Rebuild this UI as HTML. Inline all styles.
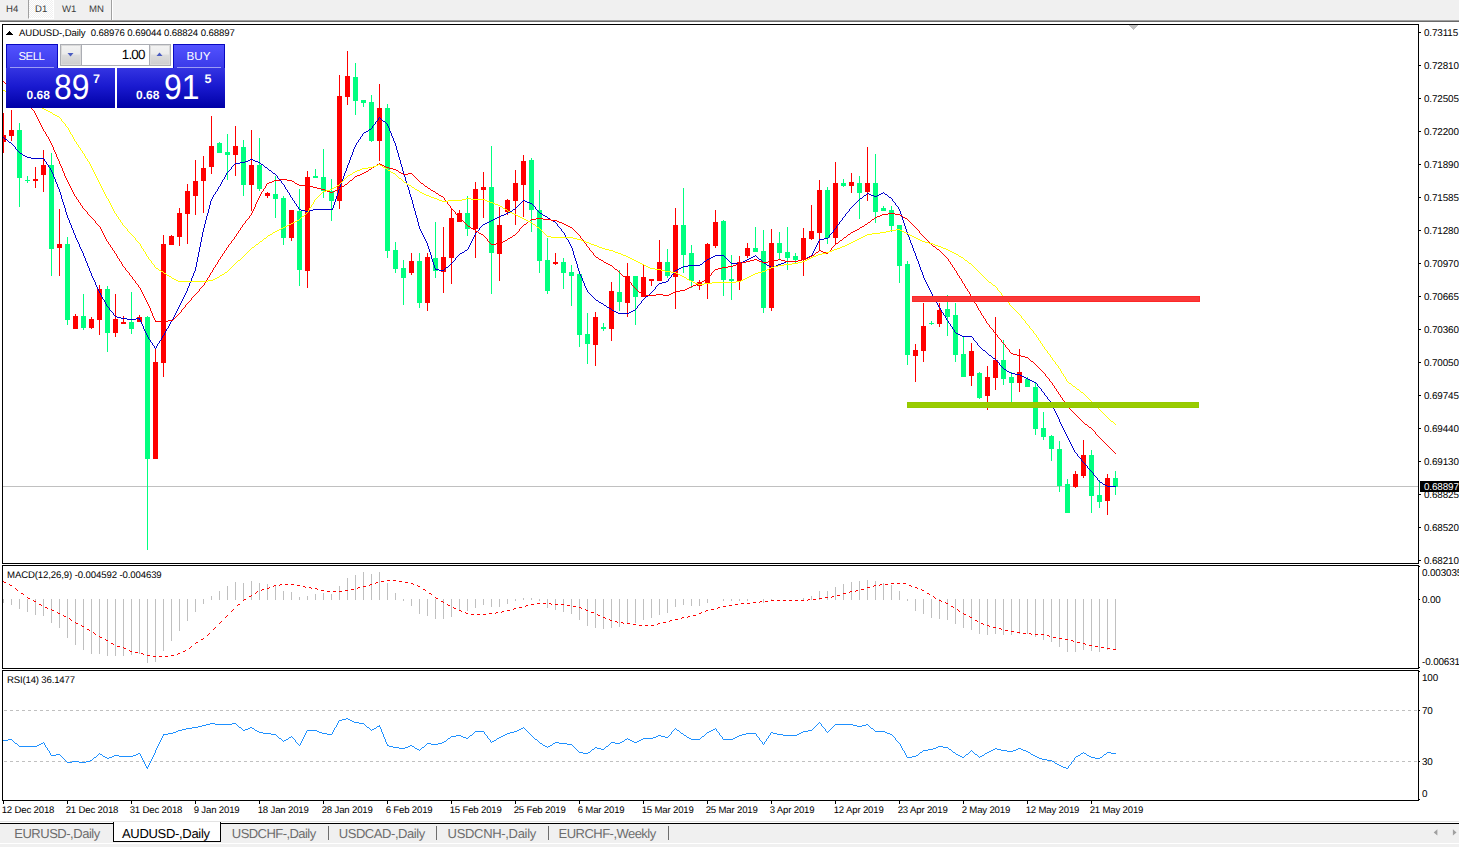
<!DOCTYPE html><html><head><meta charset="utf-8"><title>AUDUSD-,Daily</title><style>
html,body{margin:0;padding:0;background:#fff;}
body{width:1459px;height:847px;position:relative;overflow:hidden;font-family:"Liberation Sans",sans-serif;text-rendering:geometricPrecision;}
#top{position:absolute;left:0;top:0;width:1459px;height:20px;background:#f0f0f0;}
#topl1{position:absolute;left:0;top:20px;width:1459px;height:1px;background:#a0a0a0;}
#topl2{position:absolute;left:0;top:21px;width:1459px;height:1px;background:#696969;}
.tf{position:absolute;top:4px;font-size:9.6px;color:#3c3c3c;line-height:12px;white-space:nowrap;}
#d1{position:absolute;left:28px;top:0;width:24px;height:18px;background:repeating-conic-gradient(#fff 0 25%,#f0f0f0 0 50%) 0 0/2px 2px;border-left:1px solid #a0a0a0;border-right:1px solid #fff;border-bottom:1px solid #fff;}
#sep{position:absolute;left:111px;top:0;width:1px;height:20px;background:#a0a0a0;}
#sep2{position:absolute;left:112px;top:0;width:1px;height:20px;background:#fff;}
svg{position:absolute;left:0;top:0;}
.t{position:absolute;white-space:nowrap;color:#000;}
.ax{position:absolute;left:1424px;font-size:9.9px;line-height:11px;white-space:nowrap;color:#000;letter-spacing:-0.13px;}
.dt{position:absolute;top:805px;font-size:9.6px;line-height:11px;white-space:nowrap;color:#000;letter-spacing:-0.17px;}
#bar{position:absolute;left:0;top:824px;width:1459px;height:23px;background:#f0f0f0;}
#barw{position:absolute;left:0;top:843px;width:1459px;height:1px;background:#fff;}
#barl0{position:absolute;left:0;top:821px;width:1459px;height:1px;background:#e3e3e3;}
#barl1{position:absolute;left:0;top:823px;width:1459px;height:1px;background:#000;}
#act{position:absolute;left:113px;top:822px;width:106px;height:19px;background:#fff;border:1px solid #000;border-top:none;box-sizing:content-box;}
.tab{position:absolute;top:826px;font-size:13px;line-height:16px;color:#6d6d6d;white-space:nowrap;letter-spacing:-0.42px;}
.tsep{position:absolute;top:826px;width:1px;height:14px;background:#6d6d6d;}
/* trade panel */
#sell{position:absolute;left:6px;top:44px;width:52px;height:24px;background:linear-gradient(#5252ff,#3a3ae8);box-sizing:border-box;border:1px solid #0808c0;border-bottom:none;}
#buy{position:absolute;left:173px;top:44px;width:52px;height:24px;background:linear-gradient(#5252ff,#3a3ae8);box-sizing:border-box;border:1px solid #0808c0;border-bottom:none;}
#sellb{position:absolute;left:6px;top:68px;width:109px;height:40px;background:linear-gradient(#3434e2,#1a1ad0 45%,#0000a6);}
#buyb{position:absolute;left:117px;top:68px;width:108px;height:40px;background:linear-gradient(#3434e2,#1a1ad0 45%,#0000a6);}
.pl{position:absolute;top:67px;height:1px;background:#9c9cf5;}
#spin{position:absolute;left:60px;top:44px;width:109px;height:20px;background:#fff;border:1px solid #abadb3;}
.sb{position:absolute;top:45px;width:20px;height:20px;background:linear-gradient(#f2f2f2,#ebebeb 45%,#dddddd 50%,#cfcfcf);border:1px solid #dadada;box-sizing:border-box;}
.wt{position:absolute;color:#fff;white-space:nowrap;}

</style></head><body>
<div id="top"></div><div id="topl1"></div><div id="topl2"></div>
<div id="d1"></div><div id="sep"></div><div id="sep2"></div>
<div class="tf" style="left:6px">H4</div>
<div class="tf" style="left:35px">D1</div>
<div class="tf" style="left:62px">W1</div>
<div class="tf" style="left:89px">MN</div>
<svg width="1459" height="847" viewBox="0 0 1459 847" shape-rendering="crispEdges">
<rect x="3" y="486" width="1416" height="1" fill="#c0c0c0"/>
<clipPath id="cm"><rect x="3" y="25" width="1415" height="538"/></clipPath>
<g clip-path="url(#cm)">
<rect x="3" y="113" width="1" height="40" fill="#ff0000"/>
<rect x="1" y="135" width="5" height="7" fill="#ff0000"/>
<rect x="11" y="110" width="1" height="31" fill="#ff0000"/>
<rect x="9" y="130" width="5" height="6" fill="#ff0000"/>
<rect x="19" y="123" width="1" height="84" fill="#00ff7f"/>
<rect x="17" y="130" width="5" height="48" fill="#00ff7f"/>
<rect x="27" y="176" width="1" height="7" fill="#00ff7f"/>
<rect x="25" y="180" width="5" height="1" fill="#00ff7f"/>
<rect x="35" y="167" width="1" height="21" fill="#ff0000"/>
<rect x="33" y="179" width="5" height="2" fill="#ff0000"/>
<rect x="43" y="150" width="1" height="42" fill="#ff0000"/>
<rect x="41" y="165" width="5" height="10" fill="#ff0000"/>
<rect x="51" y="153" width="1" height="123" fill="#00ff7f"/>
<rect x="49" y="165" width="5" height="84" fill="#00ff7f"/>
<rect x="59" y="209" width="1" height="67" fill="#ff0000"/>
<rect x="57" y="244" width="5" height="4" fill="#ff0000"/>
<rect x="67" y="237" width="1" height="88" fill="#00ff7f"/>
<rect x="65" y="244" width="5" height="76" fill="#00ff7f"/>
<rect x="75" y="314" width="1" height="15" fill="#ff0000"/>
<rect x="73" y="316" width="5" height="13" fill="#ff0000"/>
<rect x="83" y="294" width="1" height="36" fill="#00ff7f"/>
<rect x="81" y="316" width="5" height="12" fill="#00ff7f"/>
<rect x="91" y="317" width="1" height="12" fill="#ff0000"/>
<rect x="89" y="319" width="5" height="9" fill="#ff0000"/>
<rect x="99" y="285" width="1" height="50" fill="#ff0000"/>
<rect x="97" y="289" width="5" height="31" fill="#ff0000"/>
<rect x="107" y="286" width="1" height="66" fill="#00ff7f"/>
<rect x="105" y="289" width="5" height="44" fill="#00ff7f"/>
<rect x="115" y="294" width="1" height="43" fill="#ff0000"/>
<rect x="113" y="319" width="5" height="14" fill="#ff0000"/>
<rect x="123" y="316" width="1" height="7" fill="#ff0000"/>
<rect x="121" y="322" width="5" height="2" fill="#ff0000"/>
<rect x="131" y="292" width="1" height="42" fill="#00ff7f"/>
<rect x="129" y="322" width="5" height="7" fill="#00ff7f"/>
<rect x="139" y="315" width="1" height="7" fill="#ff0000"/>
<rect x="137" y="317" width="5" height="5" fill="#ff0000"/>
<rect x="147" y="316" width="1" height="234" fill="#00ff7f"/>
<rect x="145" y="317" width="5" height="142" fill="#00ff7f"/>
<rect x="155" y="348" width="1" height="111" fill="#ff0000"/>
<rect x="153" y="362" width="5" height="97" fill="#ff0000"/>
<rect x="163" y="235" width="1" height="142" fill="#ff0000"/>
<rect x="161" y="244" width="5" height="119" fill="#ff0000"/>
<rect x="171" y="235" width="1" height="10" fill="#ff0000"/>
<rect x="169" y="236" width="5" height="9" fill="#ff0000"/>
<rect x="179" y="208" width="1" height="38" fill="#ff0000"/>
<rect x="177" y="213" width="5" height="24" fill="#ff0000"/>
<rect x="187" y="184" width="1" height="60" fill="#ff0000"/>
<rect x="185" y="191" width="5" height="23" fill="#ff0000"/>
<rect x="195" y="160" width="1" height="55" fill="#ff0000"/>
<rect x="193" y="181" width="5" height="15" fill="#ff0000"/>
<rect x="203" y="156" width="1" height="57" fill="#ff0000"/>
<rect x="201" y="168" width="5" height="13" fill="#ff0000"/>
<rect x="211" y="116" width="1" height="58" fill="#ff0000"/>
<rect x="209" y="146" width="5" height="21" fill="#ff0000"/>
<rect x="219" y="142" width="1" height="11" fill="#00ff7f"/>
<rect x="217" y="143" width="5" height="10" fill="#00ff7f"/>
<rect x="227" y="134" width="1" height="46" fill="#00ff7f"/>
<rect x="225" y="152" width="5" height="3" fill="#00ff7f"/>
<rect x="235" y="126" width="1" height="50" fill="#ff0000"/>
<rect x="233" y="146" width="5" height="9" fill="#ff0000"/>
<rect x="243" y="140" width="1" height="56" fill="#00ff7f"/>
<rect x="241" y="147" width="5" height="38" fill="#00ff7f"/>
<rect x="251" y="130" width="1" height="81" fill="#ff0000"/>
<rect x="249" y="165" width="5" height="20" fill="#ff0000"/>
<rect x="259" y="138" width="1" height="53" fill="#00ff7f"/>
<rect x="257" y="165" width="5" height="24" fill="#00ff7f"/>
<rect x="267" y="192" width="1" height="6" fill="#ff0000"/>
<rect x="265" y="193" width="5" height="3" fill="#ff0000"/>
<rect x="275" y="176" width="1" height="42" fill="#00ff7f"/>
<rect x="273" y="194" width="5" height="5" fill="#00ff7f"/>
<rect x="283" y="196" width="1" height="49" fill="#00ff7f"/>
<rect x="281" y="198" width="5" height="40" fill="#00ff7f"/>
<rect x="291" y="210" width="1" height="31" fill="#ff0000"/>
<rect x="289" y="210" width="5" height="28" fill="#ff0000"/>
<rect x="299" y="189" width="1" height="97" fill="#00ff7f"/>
<rect x="297" y="211" width="5" height="59" fill="#00ff7f"/>
<rect x="307" y="171" width="1" height="117" fill="#ff0000"/>
<rect x="305" y="177" width="5" height="94" fill="#ff0000"/>
<rect x="315" y="169" width="1" height="9" fill="#00ff7f"/>
<rect x="313" y="176" width="5" height="2" fill="#00ff7f"/>
<rect x="323" y="149" width="1" height="49" fill="#00ff7f"/>
<rect x="321" y="177" width="5" height="14" fill="#00ff7f"/>
<rect x="331" y="179" width="1" height="42" fill="#00ff7f"/>
<rect x="329" y="191" width="5" height="10" fill="#00ff7f"/>
<rect x="339" y="75" width="1" height="134" fill="#ff0000"/>
<rect x="337" y="96" width="5" height="105" fill="#ff0000"/>
<rect x="347" y="51" width="1" height="54" fill="#ff0000"/>
<rect x="345" y="76" width="5" height="21" fill="#ff0000"/>
<rect x="355" y="63" width="1" height="52" fill="#00ff7f"/>
<rect x="353" y="77" width="5" height="24" fill="#00ff7f"/>
<rect x="363" y="100" width="1" height="7" fill="#00ff7f"/>
<rect x="361" y="100" width="5" height="3" fill="#00ff7f"/>
<rect x="371" y="95" width="1" height="47" fill="#00ff7f"/>
<rect x="369" y="102" width="5" height="39" fill="#00ff7f"/>
<rect x="379" y="84" width="1" height="77" fill="#ff0000"/>
<rect x="377" y="108" width="5" height="33" fill="#ff0000"/>
<rect x="387" y="104" width="1" height="154" fill="#00ff7f"/>
<rect x="385" y="108" width="5" height="143" fill="#00ff7f"/>
<rect x="395" y="242" width="1" height="31" fill="#00ff7f"/>
<rect x="393" y="250" width="5" height="19" fill="#00ff7f"/>
<rect x="403" y="260" width="1" height="45" fill="#00ff7f"/>
<rect x="401" y="268" width="5" height="10" fill="#00ff7f"/>
<rect x="411" y="253" width="1" height="22" fill="#ff0000"/>
<rect x="409" y="261" width="5" height="12" fill="#ff0000"/>
<rect x="419" y="253" width="1" height="55" fill="#00ff7f"/>
<rect x="417" y="261" width="5" height="42" fill="#00ff7f"/>
<rect x="427" y="253" width="1" height="58" fill="#ff0000"/>
<rect x="425" y="257" width="5" height="46" fill="#ff0000"/>
<rect x="435" y="222" width="1" height="56" fill="#00ff7f"/>
<rect x="433" y="258" width="5" height="13" fill="#00ff7f"/>
<rect x="443" y="227" width="1" height="66" fill="#ff0000"/>
<rect x="441" y="257" width="5" height="15" fill="#ff0000"/>
<rect x="451" y="209" width="1" height="75" fill="#ff0000"/>
<rect x="449" y="218" width="5" height="40" fill="#ff0000"/>
<rect x="459" y="210" width="1" height="12" fill="#ff0000"/>
<rect x="457" y="213" width="5" height="9" fill="#ff0000"/>
<rect x="467" y="196" width="1" height="40" fill="#00ff7f"/>
<rect x="465" y="213" width="5" height="16" fill="#00ff7f"/>
<rect x="475" y="182" width="1" height="76" fill="#ff0000"/>
<rect x="473" y="189" width="5" height="40" fill="#ff0000"/>
<rect x="483" y="172" width="1" height="46" fill="#ff0000"/>
<rect x="481" y="187" width="5" height="3" fill="#ff0000"/>
<rect x="491" y="146" width="1" height="148" fill="#00ff7f"/>
<rect x="489" y="187" width="5" height="66" fill="#00ff7f"/>
<rect x="499" y="207" width="1" height="74" fill="#ff0000"/>
<rect x="497" y="225" width="5" height="29" fill="#ff0000"/>
<rect x="507" y="199" width="1" height="16" fill="#ff0000"/>
<rect x="505" y="200" width="5" height="12" fill="#ff0000"/>
<rect x="515" y="170" width="1" height="55" fill="#ff0000"/>
<rect x="513" y="183" width="5" height="18" fill="#ff0000"/>
<rect x="523" y="155" width="1" height="62" fill="#ff0000"/>
<rect x="521" y="161" width="5" height="24" fill="#ff0000"/>
<rect x="531" y="158" width="1" height="74" fill="#00ff7f"/>
<rect x="529" y="160" width="5" height="50" fill="#00ff7f"/>
<rect x="539" y="190" width="1" height="83" fill="#00ff7f"/>
<rect x="537" y="210" width="5" height="51" fill="#00ff7f"/>
<rect x="547" y="238" width="1" height="56" fill="#00ff7f"/>
<rect x="545" y="260" width="5" height="31" fill="#00ff7f"/>
<rect x="555" y="253" width="1" height="12" fill="#ff0000"/>
<rect x="553" y="262" width="5" height="2" fill="#ff0000"/>
<rect x="563" y="258" width="1" height="31" fill="#00ff7f"/>
<rect x="561" y="262" width="5" height="11" fill="#00ff7f"/>
<rect x="571" y="265" width="1" height="41" fill="#00ff7f"/>
<rect x="569" y="272" width="5" height="4" fill="#00ff7f"/>
<rect x="579" y="274" width="1" height="73" fill="#00ff7f"/>
<rect x="577" y="274" width="5" height="61" fill="#00ff7f"/>
<rect x="587" y="313" width="1" height="51" fill="#00ff7f"/>
<rect x="585" y="334" width="5" height="10" fill="#00ff7f"/>
<rect x="595" y="312" width="1" height="54" fill="#ff0000"/>
<rect x="593" y="317" width="5" height="28" fill="#ff0000"/>
<rect x="603" y="323" width="1" height="8" fill="#00ff7f"/>
<rect x="601" y="327" width="5" height="2" fill="#00ff7f"/>
<rect x="611" y="282" width="1" height="59" fill="#ff0000"/>
<rect x="609" y="291" width="5" height="38" fill="#ff0000"/>
<rect x="619" y="270" width="1" height="41" fill="#00ff7f"/>
<rect x="617" y="292" width="5" height="10" fill="#00ff7f"/>
<rect x="627" y="263" width="1" height="54" fill="#ff0000"/>
<rect x="625" y="276" width="5" height="27" fill="#ff0000"/>
<rect x="635" y="276" width="1" height="49" fill="#00ff7f"/>
<rect x="633" y="276" width="5" height="21" fill="#00ff7f"/>
<rect x="643" y="265" width="1" height="32" fill="#ff0000"/>
<rect x="641" y="277" width="5" height="20" fill="#ff0000"/>
<rect x="651" y="279" width="1" height="7" fill="#ff0000"/>
<rect x="649" y="279" width="5" height="2" fill="#ff0000"/>
<rect x="659" y="240" width="1" height="41" fill="#ff0000"/>
<rect x="657" y="262" width="5" height="19" fill="#ff0000"/>
<rect x="667" y="249" width="1" height="29" fill="#00ff7f"/>
<rect x="665" y="262" width="5" height="14" fill="#00ff7f"/>
<rect x="675" y="208" width="1" height="101" fill="#ff0000"/>
<rect x="673" y="225" width="5" height="52" fill="#ff0000"/>
<rect x="683" y="188" width="1" height="85" fill="#00ff7f"/>
<rect x="681" y="225" width="5" height="30" fill="#00ff7f"/>
<rect x="691" y="245" width="1" height="43" fill="#00ff7f"/>
<rect x="689" y="253" width="5" height="28" fill="#00ff7f"/>
<rect x="699" y="280" width="1" height="10" fill="#ff0000"/>
<rect x="697" y="282" width="5" height="4" fill="#ff0000"/>
<rect x="707" y="243" width="1" height="56" fill="#ff0000"/>
<rect x="705" y="244" width="5" height="39" fill="#ff0000"/>
<rect x="715" y="210" width="1" height="38" fill="#ff0000"/>
<rect x="713" y="222" width="5" height="24" fill="#ff0000"/>
<rect x="723" y="220" width="1" height="76" fill="#00ff7f"/>
<rect x="721" y="221" width="5" height="59" fill="#00ff7f"/>
<rect x="731" y="255" width="1" height="45" fill="#00ff7f"/>
<rect x="729" y="279" width="5" height="2" fill="#00ff7f"/>
<rect x="739" y="256" width="1" height="34" fill="#ff0000"/>
<rect x="737" y="262" width="5" height="19" fill="#ff0000"/>
<rect x="747" y="243" width="1" height="15" fill="#ff0000"/>
<rect x="745" y="248" width="5" height="8" fill="#ff0000"/>
<rect x="755" y="227" width="1" height="25" fill="#00ff7f"/>
<rect x="753" y="248" width="5" height="4" fill="#00ff7f"/>
<rect x="763" y="230" width="1" height="83" fill="#00ff7f"/>
<rect x="761" y="251" width="5" height="57" fill="#00ff7f"/>
<rect x="771" y="229" width="1" height="82" fill="#ff0000"/>
<rect x="769" y="243" width="5" height="65" fill="#ff0000"/>
<rect x="779" y="232" width="1" height="28" fill="#00ff7f"/>
<rect x="777" y="243" width="5" height="10" fill="#00ff7f"/>
<rect x="787" y="227" width="1" height="43" fill="#00ff7f"/>
<rect x="785" y="252" width="5" height="6" fill="#00ff7f"/>
<rect x="795" y="253" width="1" height="10" fill="#00ff7f"/>
<rect x="793" y="256" width="5" height="4" fill="#00ff7f"/>
<rect x="803" y="228" width="1" height="48" fill="#ff0000"/>
<rect x="801" y="238" width="5" height="22" fill="#ff0000"/>
<rect x="811" y="205" width="1" height="35" fill="#ff0000"/>
<rect x="809" y="231" width="5" height="8" fill="#ff0000"/>
<rect x="819" y="180" width="1" height="71" fill="#ff0000"/>
<rect x="817" y="190" width="5" height="43" fill="#ff0000"/>
<rect x="827" y="187" width="1" height="57" fill="#00ff7f"/>
<rect x="825" y="190" width="5" height="48" fill="#00ff7f"/>
<rect x="835" y="162" width="1" height="83" fill="#ff0000"/>
<rect x="833" y="183" width="5" height="55" fill="#ff0000"/>
<rect x="843" y="179" width="1" height="8" fill="#00ff7f"/>
<rect x="841" y="183" width="5" height="3" fill="#00ff7f"/>
<rect x="851" y="173" width="1" height="20" fill="#ff0000"/>
<rect x="849" y="182" width="5" height="4" fill="#ff0000"/>
<rect x="859" y="176" width="1" height="43" fill="#00ff7f"/>
<rect x="857" y="183" width="5" height="10" fill="#00ff7f"/>
<rect x="867" y="147" width="1" height="54" fill="#ff0000"/>
<rect x="865" y="183" width="5" height="9" fill="#ff0000"/>
<rect x="875" y="154" width="1" height="69" fill="#00ff7f"/>
<rect x="873" y="183" width="5" height="29" fill="#00ff7f"/>
<rect x="883" y="206" width="1" height="5" fill="#00ff7f"/>
<rect x="881" y="208" width="5" height="3" fill="#00ff7f"/>
<rect x="891" y="206" width="1" height="26" fill="#00ff7f"/>
<rect x="889" y="210" width="5" height="16" fill="#00ff7f"/>
<rect x="899" y="225" width="1" height="58" fill="#00ff7f"/>
<rect x="897" y="225" width="5" height="41" fill="#00ff7f"/>
<rect x="907" y="261" width="1" height="104" fill="#00ff7f"/>
<rect x="905" y="264" width="5" height="91" fill="#00ff7f"/>
<rect x="915" y="344" width="1" height="38" fill="#ff0000"/>
<rect x="913" y="350" width="5" height="6" fill="#ff0000"/>
<rect x="923" y="303" width="1" height="59" fill="#ff0000"/>
<rect x="921" y="326" width="5" height="25" fill="#ff0000"/>
<rect x="931" y="321" width="1" height="4" fill="#00ff7f"/>
<rect x="929" y="323" width="5" height="1" fill="#00ff7f"/>
<rect x="939" y="303" width="1" height="24" fill="#ff0000"/>
<rect x="937" y="310" width="5" height="14" fill="#ff0000"/>
<rect x="947" y="295" width="1" height="41" fill="#00ff7f"/>
<rect x="945" y="309" width="5" height="8" fill="#00ff7f"/>
<rect x="955" y="303" width="1" height="59" fill="#00ff7f"/>
<rect x="953" y="315" width="5" height="40" fill="#00ff7f"/>
<rect x="963" y="336" width="1" height="41" fill="#00ff7f"/>
<rect x="961" y="354" width="5" height="23" fill="#00ff7f"/>
<rect x="971" y="343" width="1" height="43" fill="#ff0000"/>
<rect x="969" y="351" width="5" height="25" fill="#ff0000"/>
<rect x="979" y="372" width="1" height="27" fill="#00ff7f"/>
<rect x="977" y="373" width="5" height="25" fill="#00ff7f"/>
<rect x="987" y="366" width="1" height="44" fill="#ff0000"/>
<rect x="985" y="377" width="5" height="19" fill="#ff0000"/>
<rect x="995" y="317" width="1" height="73" fill="#ff0000"/>
<rect x="993" y="360" width="5" height="18" fill="#ff0000"/>
<rect x="1003" y="340" width="1" height="45" fill="#00ff7f"/>
<rect x="1001" y="360" width="5" height="19" fill="#00ff7f"/>
<rect x="1011" y="372" width="1" height="30" fill="#00ff7f"/>
<rect x="1009" y="377" width="5" height="6" fill="#00ff7f"/>
<rect x="1019" y="349" width="1" height="43" fill="#ff0000"/>
<rect x="1017" y="372" width="5" height="11" fill="#ff0000"/>
<rect x="1027" y="377" width="1" height="10" fill="#00ff7f"/>
<rect x="1025" y="379" width="5" height="8" fill="#00ff7f"/>
<rect x="1035" y="383" width="1" height="52" fill="#00ff7f"/>
<rect x="1033" y="387" width="5" height="42" fill="#00ff7f"/>
<rect x="1043" y="412" width="1" height="28" fill="#00ff7f"/>
<rect x="1041" y="428" width="5" height="9" fill="#00ff7f"/>
<rect x="1051" y="435" width="1" height="26" fill="#00ff7f"/>
<rect x="1049" y="436" width="5" height="13" fill="#00ff7f"/>
<rect x="1059" y="441" width="1" height="51" fill="#00ff7f"/>
<rect x="1057" y="449" width="5" height="37" fill="#00ff7f"/>
<rect x="1067" y="479" width="1" height="34" fill="#00ff7f"/>
<rect x="1065" y="484" width="5" height="29" fill="#00ff7f"/>
<rect x="1075" y="471" width="1" height="17" fill="#ff0000"/>
<rect x="1073" y="474" width="5" height="13" fill="#ff0000"/>
<rect x="1083" y="440" width="1" height="38" fill="#ff0000"/>
<rect x="1081" y="455" width="5" height="21" fill="#ff0000"/>
<rect x="1091" y="450" width="1" height="63" fill="#00ff7f"/>
<rect x="1089" y="455" width="5" height="41" fill="#00ff7f"/>
<rect x="1099" y="480" width="1" height="28" fill="#00ff7f"/>
<rect x="1097" y="495" width="5" height="7" fill="#00ff7f"/>
<rect x="1107" y="474" width="1" height="41" fill="#ff0000"/>
<rect x="1105" y="478" width="5" height="23" fill="#ff0000"/>
<rect x="1115" y="471" width="1" height="24" fill="#00ff7f"/>
<rect x="1113" y="478" width="5" height="9" fill="#00ff7f"/>
<path d="M206.5 216v4M584.5 283v3M399.5 157v3M585.5 286v2M475.5 233v2M1070.5 442v2M189.5 283v3M48.5 165v2M641.5 301v2M97.5 287v2M52.5 172v2M909.5 237v3M573.5 251v4M471.5 241v2M336.5 196v3M73.5 230v3M173.5 317v2M818.5 241v2M59.5 189v3M394.5 141v2M941.5 310v2M169.5 324v2M62.5 199v3M80.5 247v2M919.5 264v3M193.5 273v3M901.5 214v3M205.5 220v4M352.5 152v3M65.5 208v4M87.5 263v3M415.5 211v4M418.5 222v4M1044.5 393v2M145.5 331v2M933.5 296v2M184.5 295v2M290.5 195v2M209.5 205v4M172.5 319v2M428.5 246v3M408.5 187v3M999.5 363v2M201.5 237v5M397.5 150v3M411.5 197v3M192.5 276v2M168.5 326v2M400.5 160v4M583.5 281v2M1069.5 440v2M1072.5 446v2M904.5 223v3M164.5 333v2M50.5 168v2M204.5 224v4M281.5 181v2M159.5 341v2M907.5 232v3M572.5 248v3M224.5 177v2M1087.5 466v2M72.5 228v2M57.5 184v3M914.5 251v2M375.5 122v2M333.5 205v3M943.5 313v2M1054.5 409v2M208.5 209v4M79.5 244v3M220.5 184v2M85.5 258v3M191.5 278v3M416.5 215v3M92.5 276v2M212.5 197v2M203.5 228v4M409.5 190v4M932.5 294v2M346.5 168v3M292.5 198v2M113.5 313v2M575.5 258v3M427.5 243v3M353.5 149v3M895.5 203v2M578.5 268v3M396.5 146v4M63.5 202v3M899.5 209v2M1067.5 436v2M66.5 212v3M199.5 247v5M177.5 309v2M829.5 235v2M215.5 192v2M67.5 215v3M903.5 220v3M139.5 318v2M284.5 185v2M140.5 320v2M211.5 199v2M912.5 245v3M186.5 291v2M420.5 229v2M423.5 235v2M202.5 232v5M913.5 248v3M1056.5 413v2M345.5 171v2M77.5 240v2M945.5 316v2M430.5 252v3M412.5 200v4M1063.5 428v2M433.5 262v3M91.5 273v3M566.5 237v2M231.5 167v2M404.5 174v3M349.5 160v3M405.5 177v4M1081.5 459v2M570.5 244v2M98.5 289v2M210.5 201v4M101.5 295v2M391.5 133v3M294.5 201v2M185.5 293v2M574.5 255v3M15.5 147v2M898.5 207v2M181.5 301v2M926.5 282v2M44.5 159v2M421.5 231v2M197.5 257v5M422.5 233v2M356.5 143v2M429.5 249v3M200.5 242v5M431.5 255v4M671.5 275v2M1065.5 432v2M180.5 303v2M580.5 274v2M1062.5 426v2M432.5 259v3M535.5 207v2M401.5 164v3M568.5 240v2M176.5 311v2M403.5 171v3M339.5 187v3M68.5 218v2M99.5 291v2M54.5 177v2M100.5 293v2M51.5 170v2M75.5 235v3M296.5 204v2M839.5 222v2M355.5 145v2M674.5 271v2M58.5 187v2M179.5 305v2M924.5 278v2M417.5 218v4M925.5 280v2M338.5 190v3M175.5 313v2M337.5 193v3M147.5 335v2M195.5 267v4M1060.5 422v2M833.5 230v2M342.5 179v3M557.5 224v2M1071.5 444v2M53.5 174v3M74.5 233v2M94.5 280v2M1041.5 389v2M817.5 243v2M813.5 251v2M1073.5 448v2M142.5 324v2M908.5 235v2M360.5 137v2M973.5 338v2M915.5 253v3M82.5 251v2M1055.5 411v2M1058.5 417v2M414.5 208v3M86.5 261v2M812.5 253v2M213.5 195v2M188.5 286v2M93.5 278v2M474.5 235v2M378.5 118v2M569.5 242v2M936.5 301v2M1047.5 397v2M655.5 287v2M393.5 138v3M900.5 211v3M64.5 205v3M921.5 270v2M351.5 155v2M561.5 229v2M187.5 288v3M473.5 237v2M1057.5 415v2M946.5 318v2M413.5 204v4M1064.5 430v2M198.5 252v5M402.5 167v4M70.5 223v2M934.5 298v2M571.5 246v2M937.5 303v2M102.5 297v2M392.5 136v2M298.5 207v2M468.5 247v2M916.5 256v3M348.5 163v2M157.5 344v2M948.5 321v2M222.5 180v2M218.5 187v2M479.5 228v2M587.5 290v2M69.5 220v3M196.5 262v5M911.5 243v2M1051.5 403v2M104.5 300v2M156.5 346v2M217.5 189v2M89.5 268v3M435.5 268v2M928.5 286v2M148.5 337v2M470.5 243v2M579.5 271v3M586.5 288v2M910.5 240v3M170.5 322v2M194.5 271v2M81.5 249v2M920.5 267v3M166.5 329v2M341.5 182v2M88.5 266v2M434.5 265v3M927.5 284v2M162.5 336v2M95.5 282v3M388.5 126v2M1093.5 473v2M150.5 340v2M395.5 143v3M332.5 208v2M398.5 153v4M207.5 213v3M668.5 279v2M902.5 217v3M165.5 331v2M340.5 184v3M849.5 209v2M905.5 226v3M1077.5 454v2M161.5 338v2M287.5 190v2M83.5 253v3M372.5 126v2M1059.5 419v3M455.5 258v2M387.5 124v2M940.5 308v2M576.5 261v3M61.5 195v4M918.5 261v3M141.5 322v2M285.5 187v2M424.5 237v2M289.5 193v2M183.5 297v2M469.5 245v2M892.5 199v2M410.5 194v3M582.5 278v3M1068.5 438v2M350.5 157v3M938.5 305v2M1097.5 478v2M56.5 182v2M1053.5 407v2M106.5 304v2M182.5 299v2M60.5 192v3M917.5 259v2M923.5 275v3M564.5 233v2M930.5 290v2M426.5 241v2M577.5 264v4M952.5 327v2M581.5 276v2M1066.5 434v2M1037.5 384v2M55.5 179v3M1052.5 405v2M105.5 302v2M76.5 238v2M344.5 173v3M836.5 226v2M922.5 272v3M90.5 271v2M565.5 235v2M929.5 288v2M226.5 173v2M407.5 184v3M390.5 131v2M335.5 199v3M152.5 343v2M950.5 324v2M343.5 176v3M954.5 330v2M71.5 225v3M347.5 165v3M819.5 239v2M144.5 329v2M1050.5 401v2M225.5 175v2M334.5 202v3M221.5 182v2M1061.5 424v2M362.5 134v2M46.5 162v2M842.5 218v2M96.5 285v2M389.5 128v3M406.5 181v3M358.5 140v2M154.5 346v2M354.5 147v2M814.5 249v2M178.5 307v2M190.5 281v2M906.5 229v3M1074.5 450v2M419.5 226v3M146.5 333v2M174.5 315v2M143.5 326v3M425.5 239v2M977.5 343v2M816.5 245v2M78.5 242v2M815.5 247v2M931.5 292v2M277.5 176v2M845.5 214v2M472.5 239v2M637.5 306v2M109.5 308v2M84.5 256v2M1015 374.5h5M955 332.5h1M449 265.5h1M688 265.5h12M767 265.5h2M776 265.5h2M299 209.5h2M313 209.5h19M513 209.5h2M536 209.5h1M599 302.5h2M867 193.5h2M881 193.5h2M884 193.5h1M439 270.5h5M675 270.5h2M485 223.5h2M556 223.5h1M860 198.5h2M891 198.5h1M458 255.5h1M715 255.5h9M755 255.5h1M811 255.5h1M22 154.5h1M456 257.5h1M711 257.5h2M725 257.5h1M751 257.5h2M757 257.5h1M807 257.5h2M153 345.5h1M978 345.5h1M618 313.5h11M1030 380.5h2M214 194.5h1M866 194.5h1M869 194.5h2M879 194.5h2M885 194.5h2M518 205.5h1M533 205.5h1M853 205.5h1M896 205.5h1M864 195.5h2M871 195.5h3M877 195.5h2M887 195.5h1M376 121.5h1M383 121.5h2M103 299.5h1M595 299.5h1M643 299.5h1M223 179.5h1M279 179.5h1M448 266.5h1M683 266.5h5M769 266.5h2M773 266.5h3M235 163.5h5M260 163.5h1M515 208.5h1M850 208.5h1M491 220.5h2M551 220.5h2M841 220.5h1M1032 381.5h2M127 319.5h9M230 169.5h1M268 169.5h1M1084 463.5h1M506 213.5h2M540 213.5h2M846 213.5h1M863 196.5h1M874 196.5h3M888 196.5h1M280 180.5h1M707 259.5h2M727 259.5h1M747 259.5h2M759 259.5h2M802 259.5h3M454 260.5h1M706 260.5h1M728 260.5h1M745 260.5h2M761 260.5h1M798 260.5h4M662 282.5h4M111 311.5h1M614 311.5h2M631 311.5h2M1026 378.5h2M1085 464.5h1M160 340.5h1M974 340.5h1M709 258.5h2M726 258.5h1M749 258.5h2M758 258.5h1M805 258.5h2M962 336.5h10M240 162.5h5M258 162.5h2M436 269.5h3M444 269.5h1M677 269.5h2M483 224.5h2M838 224.5h1M155 348.5h1M981 348.5h1M992 357.5h1M453 261.5h1M704 261.5h2M729 261.5h1M743 261.5h2M762 261.5h1M786 261.5h12M361 136.5h1M18 151.5h1M364 132.5h2M121 318.5h6M136 318.5h3M1022 376.5h2M27 157.5h4M20 153.5h2M248 160.5h2M253 160.5h2M305 211.5h5M510 211.5h2M538 211.5h1M848 211.5h1M993 358.5h2M495 218.5h2M548 218.5h2M1107 486.5h9M497 217.5h2M547 217.5h1M843 217.5h1M31 158.5h13M824 238.5h4M380 118.5h1M594 298.5h1M644 298.5h1M493 219.5h2M550 219.5h1M112 312.5h1M616 312.5h2M629 312.5h2M942 312.5h1M591 295.5h1M648 295.5h1M451 263.5h1M702 263.5h1M731 263.5h10M764 263.5h2M781 263.5h3M47 164.5h1M234 164.5h1M261 164.5h2M501 215.5h3M543 215.5h2M1000 365.5h1M609 308.5h2M636 308.5h1M291 197.5h1M862 197.5h1M889 197.5h2M368 130.5h1M656 286.5h1M1095 476.5h1M1040 388.5h1M659 283.5h3M481 226.5h1M558 226.5h1M297 206.5h1M517 206.5h1M534 206.5h1M852 206.5h1M897 206.5h1M232 166.5h1M264 166.5h1M588 292.5h1M651 292.5h1M457 256.5h1M713 256.5h2M724 256.5h1M753 256.5h2M756 256.5h1M809 256.5h2M480 227.5h1M559 227.5h1M499 216.5h2M545 216.5h2M844 216.5h1M508 212.5h2M539 212.5h1M847 212.5h1M476 232.5h1M563 232.5h1M832 232.5h1M9 142.5h2M357 142.5h1M987 353.5h1M282 183.5h1M489 221.5h2M553 221.5h2M840 221.5h1M666 281.5h2M522 201.5h1M525 201.5h2M857 201.5h1M893 201.5h1M110 310.5h1M612 310.5h2M633 310.5h2M988 354.5h1M283 184.5h1M233 165.5h1M263 165.5h1M286 189.5h1M603 304.5h1M639 304.5h1M17 150.5h1M115 316.5h2M295 203.5h1M520 203.5h1M530 203.5h2M855 203.5h1M386 123.5h1M1094 475.5h1M450 264.5h1M700 264.5h2M766 264.5h1M778 264.5h3M465 250.5h2M519 204.5h1M532 204.5h1M854 204.5h1M301 210.5h4M310 210.5h3M512 210.5h1M537 210.5h1M117 317.5h4M590 294.5h1M649 294.5h1M859 199.5h1M1076 453.5h1M1009 372.5h2M670 277.5h1M1100 482.5h2M45 161.5h1M245 161.5h3M255 161.5h3M521 202.5h1M527 202.5h3M856 202.5h1M894 202.5h1M114 315.5h1M944 315.5h1M1102 483.5h1M567 239.5h1M820 239.5h4M250 159.5h3M293 200.5h1M523 200.5h2M858 200.5h1M504 214.5h2M542 214.5h1M462 252.5h2M589 293.5h1M650 293.5h1M1011 373.5h4M5 139.5h2M359 139.5h1M1043 392.5h1M983 350.5h2M601 303.5h2M640 303.5h1M1006 370.5h1M23 155.5h2M446 267.5h2M681 267.5h2M771 267.5h2M273 173.5h2M560 228.5h1M835 228.5h1M998 362.5h1M452 262.5h1M703 262.5h1M730 262.5h1M741 262.5h2M763 262.5h1M784 262.5h2M956 333.5h2M1079 457.5h1M658 284.5h1M377 120.5h1M382 120.5h1M49 167.5h1M265 167.5h2M604 305.5h2M638 305.5h1M482 225.5h1M837 225.5h1M216 191.5h1M975 341.5h1M1004 369.5h2M151 342.5h1M976 342.5h1M477 231.5h1M562 231.5h1M592 296.5h1M646 296.5h2M982 349.5h1M1028 379.5h2M1020 375.5h2M163 335.5h1M960 335.5h2M108 307.5h1M607 307.5h2M939 307.5h1M158 343.5h1M596 300.5h2M642 300.5h1M935 300.5h1M1046 396.5h1M107 306.5h1M606 306.5h1M1024 377.5h2M1086 465.5h1M1001 366.5h1M288 192.5h1M883 192.5h1M374 124.5h1M227 172.5h1M272 172.5h1M19 152.5h1M487 222.5h2M555 222.5h1M1034 382.5h2M229 170.5h1M269 170.5h2M1045 395.5h1M1096 477.5h1M1078 456.5h1M949 323.5h1M464 251.5h1M11 143.5h1M12 144.5h1M989 355.5h2M219 186.5h1M1089 469.5h1M979 346.5h1M669 278.5h1M445 268.5h1M679 268.5h2M834 229.5h1M369 129.5h2M611 309.5h1M635 309.5h1M460 253.5h2M1049 400.5h1M1088 468.5h1M1103 484.5h2M1105 485.5h2M1038 386.5h1M1099 481.5h1M672 274.5h1M7 140.5h1M657 285.5h1M593 297.5h1M645 297.5h1M947 320.5h1M1098 480.5h1M1007 371.5h2M1048 399.5h1M275 174.5h1M828 237.5h1M958 334.5h2M1080 458.5h1M276 175.5h1M366 131.5h2M652 291.5h1M598 301.5h1M1003 368.5h1M371 128.5h1M25 156.5h2M3 137.5h1M14 146.5h1M1091 471.5h1M951 326.5h1M149 339.5h1M995 359.5h1M467 249.5h1M459 254.5h1M996 360.5h1M516 207.5h1M851 207.5h1M1002 367.5h1M363 133.5h1M1036 383.5h1M228 171.5h1M271 171.5h1M980 347.5h1M831 233.5h1M278 178.5h1M1083 462.5h1M478 230.5h1M379 117.5h1M13 145.5h1M267 168.5h1M1090 470.5h1M991 356.5h1M953 329.5h1M171 321.5h1M654 289.5h1M1039 387.5h1M1082 461.5h1M167 328.5h1M16 149.5h1M385 122.5h1M8 141.5h1M1075 452.5h1M972 337.5h1M4 138.5h1M1042 391.5h1M373 125.5h1M985 351.5h1M673 273.5h1M986 352.5h1M997 361.5h1M381 119.5h1M1092 472.5h1M830 234.5h1M653 290.5h1" fill="none" stroke="#0000cd" stroke-width="1"/>
<path d="M217.5 262v2M593.5 253v2M950.5 262v2M67.5 180v2M245.5 221v2M45.5 132v2M146.5 300v2M46.5 134v2M240.5 228v2M49.5 139v2M143.5 294v2M204.5 283v2M153.5 316v2M56.5 154v3M154.5 318v2M117.5 256v2M63.5 171v2M121.5 262v2M1066.5 404v2M38.5 119v2M135.5 281v2M964.5 284v2M191.5 298v2M95.5 221v2M580.5 236v2M919.5 231v2M952.5 265v2M258.5 198v2M145.5 298v2M970.5 294v2M76.5 197v2M974.5 301v2M152.5 313v3M1054.5 386v2M444.5 198v2M1058.5 392v2M36.5 115v2M962.5 281v2M138.5 285v2M254.5 207v2M983.5 316v2M213.5 268v2M209.5 275v2M972.5 297v2M78.5 200v2M976.5 304v2M53.5 147v3M1056.5 389v2M631.5 283v2M60.5 164v2M450.5 206v2M181.5 310v2M70.5 186v2M985.5 319v2M986.5 321v2M989.5 325v2M228.5 245v2M80.5 203v2M62.5 168v3M68.5 182v2M69.5 184v2M222.5 254v2M149.5 306v2M101.5 229v2M218.5 260v2M119.5 259v2M519.5 229v2M82.5 206v2M253.5 209v2M266.5 184v2M249.5 216v2M583.5 240v2M954.5 268v2M50.5 141v2M147.5 302v2M100.5 227v2M185.5 305v2M155.5 320v2M1005.5 345v2M125.5 268v2M956.5 271v2M48.5 137v2M55.5 152v2M40.5 123v2M142.5 292v2M87.5 212v2M455.5 212v2M242.5 225v2M977.5 306v2M238.5 231v2M980.5 311v2M261.5 192v2M1009.5 350v2M965.5 286v2M71.5 188v2M140.5 288v2M589.5 248v2M260.5 194v2M1045.5 374v2M110.5 245v2M212.5 270v2M255.5 204v3M102.5 231v2M215.5 265v2M207.5 278v2M112.5 248v2M205.5 281v2M148.5 304v2M265.5 186v2M57.5 157v2M711.5 273v2M64.5 173v3M122.5 264v2M42.5 127v2M39.5 121v2M257.5 200v2M236.5 234v2M1049.5 379v2M586.5 244v2M957.5 273v2M224.5 251v2M256.5 202v2M978.5 308v2M220.5 257v2M59.5 161v3M993.5 330v2M41.5 125v2M967.5 289v2M73.5 192v2M251.5 213v2M959.5 276v2M210.5 273v2M226.5 248v2M969.5 292v2M141.5 290v2M72.5 190v2M151.5 311v2M104.5 235v2M447.5 202v2M961.5 279v2M35.5 113v2M997.5 335v2M114.5 251v2M1060.5 395v2M129.5 273v2M132.5 277v2M52.5 145v2M150.5 308v3M103.5 233v2M34.5 111v2M66.5 178v2M263.5 189v2M116.5 254v2M199.5 289v2M231.5 241v2M1062.5 398v2M259.5 196v2M51.5 143v2M234.5 237v2M58.5 159v2M948.5 259v2M65.5 176v2M43.5 129v2M144.5 296v2M1001.5 340v2M487.5 239v2M1064.5 401v2M252.5 211v2M74.5 194v2M106.5 239v2M1052.5 383v2M37.5 117v2M831.5 248v2M981.5 313v2M1095.5 432v2M973.5 299v2M54.5 150v2M105.5 237v2M108.5 242v2M61.5 166v2M88 214.5h1M456 214.5h1M882 214.5h6M895 214.5h5M473 229.5h2M573 229.5h1M857 229.5h2M917 229.5h1M366 171.5h2M398 171.5h1M120 261.5h1M603 261.5h1M746 261.5h4M759 261.5h3M768 261.5h6M785 261.5h13M949 261.5h1M372 167.5h2M386 167.5h3M131 276.5h1M623 276.5h2M709 276.5h1M379 163.5h1M200 288.5h1M635 288.5h1M687 288.5h2M966 288.5h1M264 188.5h1M317 188.5h4M339 188.5h1M428 188.5h2M5 83.5h1M371 168.5h1M389 168.5h4M130 275.5h1M622 275.5h1M710 275.5h1M958 275.5h1M269 182.5h3M294 182.5h1M348 182.5h1M420 182.5h1M626 278.5h1M707 278.5h1M960 278.5h1M483 235.5h1M513 235.5h2M579 235.5h1M847 235.5h1M922 235.5h1M85 210.5h1M453 210.5h1M489 242.5h1M501 242.5h2M584 242.5h1M838 242.5h1M929 242.5h1M92 218.5h1M248 218.5h1M460 218.5h1M536 218.5h7M874 218.5h1M905 218.5h2M6 84.5h1M221 256.5h1M595 256.5h1M810 256.5h2M945 256.5h1M604 262.5h2M742 262.5h4M762 262.5h6M139 287.5h1M201 287.5h1M634 287.5h1M689 287.5h2M591 251.5h1M818 251.5h1M821 251.5h2M829 251.5h1M940 251.5h1M196 293.5h1M641 293.5h1M671 293.5h2M233 239.5h1M507 239.5h1M582 239.5h1M842 239.5h1M926 239.5h1M99 226.5h1M468 226.5h2M522 226.5h1M568 226.5h2M862 226.5h2M914 226.5h1M23 100.5h1M274 180.5h6M287 180.5h5M350 180.5h2M418 180.5h1M133 279.5h1M627 279.5h1M705 279.5h2M601 260.5h2M750 260.5h4M757 260.5h2M774 260.5h4M781 260.5h4M798 260.5h4M111 247.5h1M227 247.5h1M588 247.5h1M832 247.5h1M935 247.5h1M198 291.5h1M638 291.5h1M675 291.5h5M968 291.5h1M24 101.5h1M96 223.5h1M244 223.5h1M465 223.5h1M526 223.5h1M562 223.5h2M867 223.5h1M911 223.5h1M592 252.5h1M816 252.5h2M823 252.5h3M828 252.5h1M941 252.5h1M94 220.5h1M246 220.5h1M462 220.5h1M530 220.5h1M551 220.5h6M871 220.5h1M908 220.5h1M75 196.5h1M441 196.5h2M471 228.5h2M520 228.5h1M572 228.5h1M859 228.5h1M916 228.5h1M1067 406.5h1M299 185.5h10M344 185.5h1M424 185.5h1M1011 353.5h2M109 244.5h1M229 244.5h1M491 244.5h5M835 244.5h1M931 244.5h1M606 263.5h2M738 263.5h4M115 253.5h1M223 253.5h1M815 253.5h1M826 253.5h2M942 253.5h1M1111 449.5h1M362 173.5h2M401 173.5h2M408 173.5h4M193 296.5h1M971 296.5h1M369 169.5h2M393 169.5h3M194 295.5h1M643 295.5h13M663 295.5h6M97 224.5h1M243 224.5h1M466 224.5h1M524 224.5h2M564 224.5h2M865 224.5h2M912 224.5h1M443 197.5h1M118 258.5h1M598 258.5h1M805 258.5h3M947 258.5h1M1034 363.5h1M30 107.5h1M177 315.5h1M982 315.5h1M309 186.5h4M342 186.5h2M425 186.5h2M136 283.5h1M698 283.5h2M963 283.5h1M330 192.5h3M435 192.5h1M124 267.5h1M214 267.5h1M613 267.5h1M722 267.5h6M953 267.5h1M4 82.5h1M113 250.5h1M225 250.5h1M590 250.5h1M819 250.5h2M830 250.5h1M939 250.5h1M31 108.5h1M438 194.5h1M610 265.5h2M733 265.5h3M594 255.5h1M812 255.5h2M944 255.5h1M93 219.5h1M247 219.5h1M461 219.5h1M531 219.5h5M543 219.5h8M872 219.5h2M907 219.5h1M1074 413.5h1M637 290.5h1M680 290.5h5M1085 424.5h2M123 266.5h1M612 266.5h1M728 266.5h5M485 237.5h1M510 237.5h2M844 237.5h2M924 237.5h1M156 321.5h12M357 175.5h3M413 175.5h1M439 195.5h2M239 230.5h1M475 230.5h1M574 230.5h1M855 230.5h2M918 230.5h1M325 190.5h2M335 190.5h2M431 190.5h2M203 285.5h1M632 285.5h1M693 285.5h3M11 89.5h1M219 259.5h1M599 259.5h2M754 259.5h3M778 259.5h3M802 259.5h3M1033 362.5h1M629 281.5h1M702 281.5h2M888 213.5h7M360 174.5h2M403 174.5h5M412 174.5h1M368 170.5h1M396 170.5h2M180 312.5h1M216 264.5h1M608 264.5h2M736 264.5h2M951 264.5h1M1004 344.5h1M486 238.5h1M508 238.5h2M581 238.5h1M843 238.5h1M925 238.5h1M12 90.5h1M615 269.5h2M715 269.5h3M44 131.5h1M321 189.5h4M337 189.5h2M430 189.5h1M1017 355.5h4M280 179.5h7M352 179.5h1M417 179.5h1M91 217.5h1M459 217.5h1M875 217.5h2M903 217.5h2M168 320.5h5M84 209.5h1M452 209.5h1M1099 437.5h1M267 183.5h2M295 183.5h2M347 183.5h1M421 183.5h2M18 96.5h2M230 243.5h1M490 243.5h1M496 243.5h5M585 243.5h1M836 243.5h2M930 243.5h1M992 329.5h1M237 233.5h1M479 233.5h2M516 233.5h1M577 233.5h1M850 233.5h1M920 233.5h1M1100 438.5h1M188 302.5h1M1041 370.5h1M596 257.5h2M808 257.5h2M946 257.5h1M241 227.5h1M470 227.5h1M521 227.5h1M570 227.5h2M860 227.5h2M915 227.5h1M463 221.5h1M528 221.5h2M557 221.5h2M870 221.5h1M909 221.5h1M937 249.5h2M1003 343.5h1M1013 354.5h4M1048 378.5h1M235 236.5h1M484 236.5h1M512 236.5h1M846 236.5h1M923 236.5h1M1091 428.5h1M107 241.5h1M488 241.5h1M503 241.5h2M839 241.5h1M928 241.5h1M98 225.5h1M467 225.5h1M523 225.5h1M566 225.5h2M864 225.5h1M913 225.5h1M89 215.5h1M250 215.5h1M457 215.5h1M880 215.5h2M900 215.5h2M1081 420.5h1M1092 429.5h1M636 289.5h1M685 289.5h2M127 271.5h1M618 271.5h1M713 271.5h1M262 191.5h1M327 191.5h3M333 191.5h2M433 191.5h2M445 200.5h1M464 222.5h1M527 222.5h1M559 222.5h3M868 222.5h2M910 222.5h1M478 232.5h1M517 232.5h1M576 232.5h1M851 232.5h2M1025 357.5h3M354 177.5h1M415 177.5h1M134 280.5h1M206 280.5h1M628 280.5h1M704 280.5h1M208 277.5h1M625 277.5h1M708 277.5h1M313 187.5h4M340 187.5h2M427 187.5h1M1040 369.5h1M175 317.5h1M1029 359.5h1M195 294.5h1M642 294.5h1M656 294.5h7M669 294.5h2M1021 356.5h4M1106 444.5h1M1107 445.5h1M1051 382.5h1M26 103.5h1M355 176.5h2M414 176.5h1M587 246.5h1M833 246.5h1M933 246.5h2M1113 451.5h1M126 270.5h1M617 270.5h1M714 270.5h1M955 270.5h1M1114 452.5h1M995 333.5h1M137 284.5h1M696 284.5h2M90 216.5h1M458 216.5h1M877 216.5h3M902 216.5h1M834 245.5h1M932 245.5h1M1087 425.5h1M996 334.5h1M1088 426.5h1M7 85.5h1M614 268.5h1M718 268.5h4M377 164.5h2M380 164.5h2M179 313.5h1M374 166.5h2M384 166.5h2M481 234.5h2M515 234.5h1M578 234.5h1M848 234.5h2M921 234.5h1M1006 347.5h1M353 178.5h1M416 178.5h1M190 300.5h1M25 102.5h1M1055 388.5h1M1068 407.5h1M14 92.5h1M476 231.5h2M518 231.5h1M575 231.5h1M853 231.5h2M448 204.5h1M297 184.5h2M345 184.5h2M423 184.5h1M1069 408.5h1M272 181.5h2M292 181.5h2M349 181.5h1M419 181.5h1M86 211.5h1M454 211.5h1M994 332.5h1M202 286.5h1M633 286.5h1M691 286.5h2M1075 414.5h1M182 309.5h1M1076 415.5h1M364 172.5h2M399 172.5h2M814 254.5h1M943 254.5h1M1035 364.5h1M1083 422.5h1M436 193.5h2M174 318.5h1M984 318.5h1M1036 365.5h1M987 323.5h1M32 109.5h1M1101 439.5h1M1042 371.5h1M1102 440.5h1M1043 372.5h1M376 165.5h1M382 165.5h2M13 91.5h1M1108 446.5h1M1082 421.5h1M1109 447.5h1M1053 385.5h1M979 310.5h1M197 292.5h1M639 292.5h2M673 292.5h2M1094 431.5h1M187 303.5h1M975 303.5h1M1030 360.5h1M998 337.5h1M1031 361.5h2M630 282.5h1M700 282.5h2M1093 430.5h1M189 301.5h1M446 201.5h1M128 272.5h1M211 272.5h1M619 272.5h1M712 272.5h1M1057 391.5h1M1008 349.5h1M1070 409.5h1M232 240.5h1M505 240.5h2M840 240.5h2M927 240.5h1M1071 410.5h1M1115 453.5h1M20 97.5h1M1089 427.5h2M27 104.5h1M77 199.5h1M1096 434.5h1M1037 366.5h1M81 205.5h1M449 205.5h1M184 307.5h1M16 94.5h1M1038 367.5h1M8 86.5h1M1077 416.5h1M192 297.5h1M1007 348.5h1M1078 417.5h1M15 93.5h1M1059 394.5h1M1084 423.5h1M33 110.5h1M999 338.5h1M1103 441.5h1M1000 339.5h1M1044 373.5h1M176 316.5h1M988 324.5h1M1110 448.5h1M22 99.5h1M1010 352.5h1M620 273.5h1M79 202.5h1M621 274.5h1M3 81.5h1M83 208.5h1M451 208.5h1M1072 411.5h1M21 98.5h1M1073 412.5h1M1046 376.5h1M10 88.5h1M1047 377.5h1M1079 418.5h1M183 308.5h1M1061 397.5h1M28 105.5h1M1080 419.5h1M47 136.5h1M29 106.5h1M1065 403.5h1M991 328.5h1M178 314.5h1M1098 436.5h1M1039 368.5h1M1028 358.5h1M9 87.5h1M1002 342.5h1M186 304.5h1M1097 435.5h1M990 327.5h1M17 95.5h1M1104 442.5h1M936 248.5h1M1105 443.5h1M173 319.5h1M1050 381.5h1M1063 400.5h1M1112 450.5h1" fill="none" stroke="#ff0000" stroke-width="1"/>
<path d="M141.5 246v2M1009.5 303v2M65.5 124v2M145.5 252v2M76.5 142v2M1042.5 344v2M69.5 130v2M104.5 192v2M1001.5 293v2M1061.5 371v2M97.5 178v2M140.5 244v2M148.5 257v2M151.5 261v2M72.5 135v2M1038.5 338v2M68.5 128v2M100.5 184v2M313.5 202v2M99.5 182v2M1063.5 374v2M1005.5 298v2M74.5 139v2M146.5 254v2M93.5 170v2M114.5 211v2M70.5 132v2M78.5 145v2M1044.5 347v2M1066.5 379v2M135.5 238v2M96.5 176v2M73.5 137v2M314.5 200v2M1040.5 341v2M154.5 265v2M85.5 156v2M1060.5 369v2M127.5 229v2M1058.5 366v2M95.5 174v2M1029.5 326v2M1033.5 331v2M80.5 148v2M113.5 209v2M1047.5 351v2M110.5 203v2M1021.5 316v2M1065.5 377v2M98.5 180v2M94.5 172v2M116.5 214v2M120.5 220v2M91.5 166v2M112.5 207v2M84.5 154v2M87.5 159v2M1050.5 355v2M118.5 217v2M61.5 119v2M82.5 151v2M90.5 164v2M111.5 205v2M309.5 208v2M105.5 194v2M108.5 199v2M122.5 223v2M89.5 162v2M997.5 288v2M92.5 168v2M308.5 210v2M106.5 196v2M1052.5 358v2M143.5 249v2M103.5 190v2M1025.5 321v2M311.5 205v2M109.5 201v2M1055.5 362v2M102.5 188v2M1036.5 335v2M101.5 186v2M326 190.5h4M417 190.5h2M500 206.5h2M490 202.5h3M1028 325.5h1M277 230.5h2M541 230.5h1M890 230.5h6M900 230.5h2M695 283.5h3M704 283.5h8M991 283.5h1M305 214.5h1M514 214.5h2M442 201.5h6M487 201.5h3M174 279.5h2M213 279.5h2M687 279.5h2M743 279.5h2M986 279.5h1M348 175.5h2M396 175.5h1M252 247.5h2M599 247.5h3M840 247.5h2M941 247.5h2M131 234.5h1M270 234.5h2M545 234.5h1M867 234.5h5M908 234.5h2M121 222.5h1M293 222.5h2M530 222.5h2M315 199.5h1M437 199.5h2M462 199.5h4M471 199.5h14M163 272.5h1M225 272.5h2M671 272.5h5M758 272.5h4M979 272.5h1M125 227.5h1M283 227.5h2M537 227.5h2M693 282.5h2M712 282.5h24M989 282.5h2M232 266.5h1M646 266.5h2M774 266.5h4M973 266.5h1M147 256.5h1M243 256.5h1M626 256.5h2M813 256.5h3M959 256.5h2M134 237.5h1M266 237.5h1M551 237.5h22M861 237.5h2M914 237.5h2M1043 346.5h1M133 236.5h1M267 236.5h1M547 236.5h4M863 236.5h2M912 236.5h2M241 258.5h1M630 258.5h2M809 258.5h2M963 258.5h1M129 232.5h1M273 232.5h2M543 232.5h1M880 232.5h6M904 232.5h2M698 284.5h6M992 284.5h1M279 229.5h2M540 229.5h1M896 229.5h4M439 200.5h3M448 200.5h14M485 200.5h2M138 242.5h1M259 242.5h1M586 242.5h3M851 242.5h2M925 242.5h4M161 271.5h2M227 271.5h1M665 271.5h6M762 271.5h3M978 271.5h1M368 167.5h5M383 167.5h2M158 269.5h1M229 269.5h1M655 269.5h6M767 269.5h2M976 269.5h1M156 268.5h2M230 268.5h1M650 268.5h5M769 268.5h2M975 268.5h1M124 226.5h1M285 226.5h2M536 226.5h1M150 260.5h1M238 260.5h2M634 260.5h2M805 260.5h2M965 260.5h2M53 114.5h2M132 235.5h1M268 235.5h2M546 235.5h1M865 235.5h2M910 235.5h2M64 123.5h1M178 281.5h30M691 281.5h2M736 281.5h5M988 281.5h1M256 244.5h2M591 244.5h3M847 244.5h2M933 244.5h2M128 231.5h1M275 231.5h2M542 231.5h1M886 231.5h4M902 231.5h2M289 224.5h2M533 224.5h2M166 274.5h1M222 274.5h2M678 274.5h2M753 274.5h2M981 274.5h1M352 173.5h1M393 173.5h2M341 182.5h1M404 182.5h2M29 102.5h2M167 275.5h2M220 275.5h2M680 275.5h2M751 275.5h2M982 275.5h1M362 168.5h6M385 168.5h2M31 103.5h2M22 99.5h2M169 276.5h2M219 276.5h1M682 276.5h2M749 276.5h2M983 276.5h1M291 223.5h2M532 223.5h1M242 257.5h1M628 257.5h2M811 257.5h2M961 257.5h2M357 170.5h3M388 170.5h2M142 248.5h1M251 248.5h1M602 248.5h3M837 248.5h3M943 248.5h3M164 273.5h2M224 273.5h1M676 273.5h2M755 273.5h3M980 273.5h1M336 186.5h1M411 186.5h1M48 111.5h2M1012 307.5h1M107 198.5h1M316 198.5h1M434 198.5h3M466 198.5h5M1085 395.5h1M236 262.5h1M638 262.5h2M798 262.5h4M968 262.5h1M1086 396.5h1M75 141.5h1M249 250.5h1M609 250.5h4M832 250.5h2M948 250.5h2M13 95.5h3M993 285.5h2M155 267.5h1M231 267.5h1M648 267.5h2M771 267.5h3M974 267.5h1M264 238.5h2M573 238.5h4M859 238.5h2M916 238.5h2M119 219.5h1M299 219.5h1M524 219.5h2M304 215.5h1M516 215.5h2M319 195.5h1M426 195.5h3M7 92.5h2M343 180.5h1M402 180.5h1M247 252.5h1M615 252.5h3M826 252.5h3M952 252.5h2M40 107.5h2M159 270.5h2M228 270.5h1M661 270.5h4M765 270.5h2M977 270.5h1M300 218.5h1M522 218.5h2M332 188.5h2M414 188.5h1M33 104.5h2M1030 328.5h1M1100 410.5h1M263 239.5h1M577 239.5h4M857 239.5h2M918 239.5h2M376 165.5h2M380 165.5h2M254 246.5h1M597 246.5h2M842 246.5h3M938 246.5h3M152 263.5h1M235 263.5h1M640 263.5h2M792 263.5h6M969 263.5h2M149 259.5h1M240 259.5h1M632 259.5h2M807 259.5h2M964 259.5h1M137 241.5h1M260 241.5h2M583 241.5h3M853 241.5h2M922 241.5h3M373 166.5h3M382 166.5h1M1019 314.5h1M1059 368.5h1M246 253.5h1M618 253.5h3M822 253.5h4M954 253.5h2M1081 392.5h2M350 174.5h2M395 174.5h1M244 255.5h1M623 255.5h3M816 255.5h2M958 255.5h1M171 277.5h1M217 277.5h2M684 277.5h2M747 277.5h2M984 277.5h1M66 126.5h1M255 245.5h1M594 245.5h3M845 245.5h2M935 245.5h3M318 196.5h1M429 196.5h2M322 192.5h1M420 192.5h2M503 208.5h2M67 127.5h1M321 193.5h1M422 193.5h2M505 209.5h2M1062 373.5h1M1106 416.5h1M1077 389.5h2M1107 417.5h1M245 254.5h1M621 254.5h2M818 254.5h4M956 254.5h2M323 191.5h3M419 191.5h1M317 197.5h1M431 197.5h3M1087 397.5h1M153 264.5h1M234 264.5h1M642 264.5h2M784 264.5h8M971 264.5h1M1088 398.5h1M139 243.5h1M258 243.5h1M589 243.5h2M849 243.5h2M929 243.5h4M172 278.5h2M215 278.5h2M686 278.5h1M745 278.5h2M985 278.5h1M337 185.5h2M409 185.5h2M35 105.5h3M355 171.5h2M390 171.5h1M1072 385.5h1M353 172.5h2M391 172.5h2M1073 386.5h2M1113 422.5h1M1046 350.5h1M115 213.5h1M306 213.5h1M512 213.5h2M995 286.5h1M233 265.5h1M644 265.5h2M778 265.5h6M972 265.5h1M996 287.5h1M1020 315.5h1M46 110.5h2M176 280.5h2M208 280.5h5M689 280.5h2M741 280.5h2M987 280.5h1M340 183.5h1M406 183.5h1M1094 404.5h1M20 98.5h2M144 251.5h1M248 251.5h1M613 251.5h2M829 251.5h3M950 251.5h2M5 91.5h2M1064 376.5h1M38 106.5h2M130 233.5h1M272 233.5h1M544 233.5h1M872 233.5h8M906 233.5h2M378 164.5h2M1068 382.5h1M1108 418.5h1M360 169.5h2M387 169.5h1M1109 419.5h1M297 220.5h2M526 220.5h2M117 216.5h1M302 216.5h2M518 216.5h2M307 212.5h1M510 212.5h2M344 179.5h1M401 179.5h1M345 178.5h1M399 178.5h2M310 207.5h1M502 207.5h1M493 203.5h2M1034 333.5h1M312 204.5h1M495 204.5h3M998 290.5h1M1023 319.5h1M1096 406.5h1M1097 407.5h1M334 187.5h2M412 187.5h2M330 189.5h2M415 189.5h2M339 184.5h1M407 184.5h2M59 117.5h1M18 97.5h2M11 94.5h2M1015 310.5h1M52 113.5h1M44 109.5h2M1103 413.5h1M295 221.5h2M528 221.5h2M1007 301.5h1M9 93.5h2M3 90.5h2M1084 394.5h1M342 181.5h1M403 181.5h1M999 291.5h1M346 177.5h1M398 177.5h1M1000 292.5h1M123 225.5h1M287 225.5h2M535 225.5h1M1099 409.5h1M1054 361.5h1M320 194.5h1M424 194.5h2M507 210.5h1M1018 313.5h1M136 240.5h1M262 240.5h1M581 240.5h2M855 240.5h2M920 240.5h2M508 211.5h2M1079 390.5h1M1080 391.5h1M1017 312.5h1M301 217.5h1M520 217.5h2M250 249.5h1M605 249.5h4M834 249.5h3M946 249.5h2M1075 387.5h1M1105 415.5h1M1076 388.5h1M57 116.5h2M1002 295.5h1M1027 324.5h1M126 228.5h1M281 228.5h2M539 228.5h1M1056 364.5h1M1057 365.5h1M1069 383.5h2M1111 421.5h2M24 100.5h3M1071 384.5h1M27 101.5h2M63 122.5h1M1045 349.5h1M1092 402.5h1M1093 403.5h1M1011 306.5h1M71 134.5h1M1067 381.5h1M1004 297.5h1M237 261.5h1M636 261.5h2M802 261.5h3M967 261.5h1M77 144.5h1M81 150.5h1M1048 353.5h1M55 115.5h2M1022 318.5h1M1095 405.5h1M1013 308.5h1M1014 309.5h1M16 96.5h2M50 112.5h2M42 108.5h2M1006 300.5h1M1032 330.5h1M1101 411.5h1M1102 412.5h1M1031 329.5h1M79 147.5h1M1083 393.5h1M83 153.5h1M1049 354.5h1M1024 320.5h1M86 158.5h1M1016 311.5h1M498 205.5h2M1089 399.5h1M1090 400.5h1M347 176.5h1M397 176.5h1M60 118.5h1M1008 302.5h1M1115 424.5h1M1104 414.5h1M1114 423.5h1M1037 337.5h1M1051 357.5h1M1026 323.5h1M1110 420.5h1M88 161.5h1M1041 343.5h1M1091 401.5h1M62 121.5h1M1010 305.5h1M1035 334.5h1M1098 408.5h1M1039 340.5h1M1053 360.5h1M1003 296.5h1" fill="none" stroke="#ffff00" stroke-width="1"/>
<rect x="912" y="296" width="288" height="6" fill="#fd2828"/><rect x="913" y="297" width="286" height="4" fill="#f93939"/>
<rect x="907" y="402" width="292" height="6" fill="#94c800"/><rect x="908" y="403" width="290" height="4" fill="#99cc00"/>
</g>
<rect x="3" y="599" width="1" height="4" fill="#c0c0c0"/>
<rect x="11" y="599" width="1" height="6" fill="#c0c0c0"/>
<rect x="19" y="599" width="1" height="10" fill="#c0c0c0"/>
<rect x="27" y="599" width="1" height="13" fill="#c0c0c0"/>
<rect x="35" y="599" width="1" height="16" fill="#c0c0c0"/>
<rect x="43" y="599" width="1" height="17" fill="#c0c0c0"/>
<rect x="51" y="599" width="1" height="24" fill="#c0c0c0"/>
<rect x="59" y="599" width="1" height="29" fill="#c0c0c0"/>
<rect x="67" y="599" width="1" height="39" fill="#c0c0c0"/>
<rect x="75" y="599" width="1" height="46" fill="#c0c0c0"/>
<rect x="83" y="599" width="1" height="51" fill="#c0c0c0"/>
<rect x="91" y="599" width="1" height="55" fill="#c0c0c0"/>
<rect x="99" y="599" width="1" height="55" fill="#c0c0c0"/>
<rect x="107" y="599" width="1" height="57" fill="#c0c0c0"/>
<rect x="115" y="599" width="1" height="57" fill="#c0c0c0"/>
<rect x="123" y="599" width="1" height="57" fill="#c0c0c0"/>
<rect x="131" y="599" width="1" height="56" fill="#c0c0c0"/>
<rect x="139" y="599" width="1" height="55" fill="#c0c0c0"/>
<rect x="147" y="599" width="1" height="64" fill="#c0c0c0"/>
<rect x="155" y="599" width="1" height="63" fill="#c0c0c0"/>
<rect x="163" y="599" width="1" height="52" fill="#c0c0c0"/>
<rect x="171" y="599" width="1" height="42" fill="#c0c0c0"/>
<rect x="179" y="599" width="1" height="32" fill="#c0c0c0"/>
<rect x="187" y="599" width="1" height="22" fill="#c0c0c0"/>
<rect x="195" y="599" width="1" height="13" fill="#c0c0c0"/>
<rect x="203" y="599" width="1" height="5" fill="#c0c0c0"/>
<rect x="211" y="596" width="1" height="4" fill="#c0c0c0"/>
<rect x="219" y="591" width="1" height="9" fill="#c0c0c0"/>
<rect x="227" y="586" width="1" height="14" fill="#c0c0c0"/>
<rect x="235" y="582" width="1" height="18" fill="#c0c0c0"/>
<rect x="243" y="583" width="1" height="17" fill="#c0c0c0"/>
<rect x="251" y="581" width="1" height="19" fill="#c0c0c0"/>
<rect x="259" y="583" width="1" height="17" fill="#c0c0c0"/>
<rect x="267" y="584" width="1" height="16" fill="#c0c0c0"/>
<rect x="275" y="586" width="1" height="14" fill="#c0c0c0"/>
<rect x="283" y="591" width="1" height="9" fill="#c0c0c0"/>
<rect x="291" y="592" width="1" height="8" fill="#c0c0c0"/>
<rect x="299" y="597" width="1" height="3" fill="#c0c0c0"/>
<rect x="307" y="596" width="1" height="4" fill="#c0c0c0"/>
<rect x="315" y="594" width="1" height="6" fill="#c0c0c0"/>
<rect x="323" y="593" width="1" height="7" fill="#c0c0c0"/>
<rect x="331" y="594" width="1" height="6" fill="#c0c0c0"/>
<rect x="339" y="586" width="1" height="14" fill="#c0c0c0"/>
<rect x="347" y="578" width="1" height="22" fill="#c0c0c0"/>
<rect x="355" y="575" width="1" height="25" fill="#c0c0c0"/>
<rect x="363" y="572" width="1" height="28" fill="#c0c0c0"/>
<rect x="371" y="574" width="1" height="26" fill="#c0c0c0"/>
<rect x="379" y="572" width="1" height="28" fill="#c0c0c0"/>
<rect x="387" y="583" width="1" height="17" fill="#c0c0c0"/>
<rect x="395" y="593" width="1" height="7" fill="#c0c0c0"/>
<rect x="403" y="599" width="1" height="2" fill="#c0c0c0"/>
<rect x="411" y="599" width="1" height="7" fill="#c0c0c0"/>
<rect x="419" y="599" width="1" height="15" fill="#c0c0c0"/>
<rect x="427" y="599" width="1" height="17" fill="#c0c0c0"/>
<rect x="435" y="599" width="1" height="20" fill="#c0c0c0"/>
<rect x="443" y="599" width="1" height="20" fill="#c0c0c0"/>
<rect x="451" y="599" width="1" height="18" fill="#c0c0c0"/>
<rect x="459" y="599" width="1" height="12" fill="#c0c0c0"/>
<rect x="467" y="599" width="1" height="12" fill="#c0c0c0"/>
<rect x="475" y="599" width="1" height="9" fill="#c0c0c0"/>
<rect x="483" y="599" width="1" height="6" fill="#c0c0c0"/>
<rect x="491" y="599" width="1" height="8" fill="#c0c0c0"/>
<rect x="499" y="599" width="1" height="8" fill="#c0c0c0"/>
<rect x="507" y="599" width="1" height="5" fill="#c0c0c0"/>
<rect x="515" y="599" width="1" height="2" fill="#c0c0c0"/>
<rect x="523" y="598" width="1" height="2" fill="#c0c0c0"/>
<rect x="531" y="598" width="1" height="2" fill="#c0c0c0"/>
<rect x="539" y="599" width="1" height="2" fill="#c0c0c0"/>
<rect x="547" y="599" width="1" height="9" fill="#c0c0c0"/>
<rect x="555" y="599" width="1" height="11" fill="#c0c0c0"/>
<rect x="563" y="599" width="1" height="13" fill="#c0c0c0"/>
<rect x="571" y="599" width="1" height="15" fill="#c0c0c0"/>
<rect x="579" y="599" width="1" height="21" fill="#c0c0c0"/>
<rect x="587" y="599" width="1" height="27" fill="#c0c0c0"/>
<rect x="595" y="599" width="1" height="29" fill="#c0c0c0"/>
<rect x="603" y="599" width="1" height="30" fill="#c0c0c0"/>
<rect x="611" y="599" width="1" height="29" fill="#c0c0c0"/>
<rect x="619" y="599" width="1" height="28" fill="#c0c0c0"/>
<rect x="627" y="599" width="1" height="25" fill="#c0c0c0"/>
<rect x="635" y="599" width="1" height="24" fill="#c0c0c0"/>
<rect x="643" y="599" width="1" height="21" fill="#c0c0c0"/>
<rect x="651" y="599" width="1" height="19" fill="#c0c0c0"/>
<rect x="659" y="599" width="1" height="16" fill="#c0c0c0"/>
<rect x="667" y="599" width="1" height="14" fill="#c0c0c0"/>
<rect x="675" y="599" width="1" height="8" fill="#c0c0c0"/>
<rect x="683" y="599" width="1" height="6" fill="#c0c0c0"/>
<rect x="691" y="599" width="1" height="7" fill="#c0c0c0"/>
<rect x="699" y="599" width="1" height="7" fill="#c0c0c0"/>
<rect x="707" y="599" width="1" height="4" fill="#c0c0c0"/>
<rect x="723" y="599" width="1" height="2" fill="#c0c0c0"/>
<rect x="731" y="599" width="1" height="2" fill="#c0c0c0"/>
<rect x="739" y="599" width="1" height="2" fill="#c0c0c0"/>
<rect x="747" y="599" width="1" height="2" fill="#c0c0c0"/>
<rect x="763" y="599" width="1" height="4" fill="#c0c0c0"/>
<rect x="771" y="599" width="1" height="2" fill="#c0c0c0"/>
<rect x="803" y="598" width="1" height="2" fill="#c0c0c0"/>
<rect x="811" y="596" width="1" height="4" fill="#c0c0c0"/>
<rect x="819" y="591" width="1" height="9" fill="#c0c0c0"/>
<rect x="827" y="591" width="1" height="9" fill="#c0c0c0"/>
<rect x="835" y="587" width="1" height="13" fill="#c0c0c0"/>
<rect x="843" y="584" width="1" height="16" fill="#c0c0c0"/>
<rect x="851" y="582" width="1" height="18" fill="#c0c0c0"/>
<rect x="859" y="581" width="1" height="19" fill="#c0c0c0"/>
<rect x="867" y="580" width="1" height="20" fill="#c0c0c0"/>
<rect x="875" y="581" width="1" height="19" fill="#c0c0c0"/>
<rect x="883" y="583" width="1" height="17" fill="#c0c0c0"/>
<rect x="891" y="585" width="1" height="15" fill="#c0c0c0"/>
<rect x="899" y="591" width="1" height="9" fill="#c0c0c0"/>
<rect x="907" y="599" width="1" height="2" fill="#c0c0c0"/>
<rect x="915" y="599" width="1" height="12" fill="#c0c0c0"/>
<rect x="923" y="599" width="1" height="15" fill="#c0c0c0"/>
<rect x="931" y="599" width="1" height="19" fill="#c0c0c0"/>
<rect x="939" y="599" width="1" height="20" fill="#c0c0c0"/>
<rect x="947" y="599" width="1" height="21" fill="#c0c0c0"/>
<rect x="955" y="599" width="1" height="25" fill="#c0c0c0"/>
<rect x="963" y="599" width="1" height="29" fill="#c0c0c0"/>
<rect x="971" y="599" width="1" height="31" fill="#c0c0c0"/>
<rect x="979" y="599" width="1" height="35" fill="#c0c0c0"/>
<rect x="987" y="599" width="1" height="36" fill="#c0c0c0"/>
<rect x="995" y="599" width="1" height="35" fill="#c0c0c0"/>
<rect x="1003" y="599" width="1" height="36" fill="#c0c0c0"/>
<rect x="1011" y="599" width="1" height="36" fill="#c0c0c0"/>
<rect x="1019" y="599" width="1" height="35" fill="#c0c0c0"/>
<rect x="1027" y="599" width="1" height="35" fill="#c0c0c0"/>
<rect x="1035" y="599" width="1" height="38" fill="#c0c0c0"/>
<rect x="1043" y="599" width="1" height="41" fill="#c0c0c0"/>
<rect x="1051" y="599" width="1" height="43" fill="#c0c0c0"/>
<rect x="1059" y="599" width="1" height="48" fill="#c0c0c0"/>
<rect x="1067" y="599" width="1" height="53" fill="#c0c0c0"/>
<rect x="1075" y="599" width="1" height="53" fill="#c0c0c0"/>
<rect x="1083" y="599" width="1" height="51" fill="#c0c0c0"/>
<rect x="1091" y="599" width="1" height="52" fill="#c0c0c0"/>
<rect x="1099" y="599" width="1" height="53" fill="#c0c0c0"/>
<rect x="1107" y="599" width="1" height="51" fill="#c0c0c0"/>
<rect x="1115" y="599" width="1" height="50" fill="#c0c0c0"/>
<path d="M47 608.5h1M454 608.5h2M514 608.5h2M581 608.5h1M717 608.5h1M244 599.5h2M808 599.5h2M813 599.5h3M34 601.5h2M441 601.5h2M760 601.5h2M765 601.5h3M941 601.5h1M33 600.5h1M243 600.5h1M771 600.5h3M777 600.5h3M783 600.5h3M789 600.5h3M795 600.5h3M801 600.5h3M807 600.5h1M939 600.5h2M443 602.5h1M753 602.5h3M759 602.5h1M945 602.5h1M82 626.5h2M989 626.5h1M63 615.5h1M227 615.5h1M598 615.5h2M693 615.5h3M225 617.5h1M603 617.5h2M682 617.5h2M687 617.5h1M970 617.5h2M16 589.5h1M262 589.5h2M317 589.5h1M351 589.5h3M423 589.5h2M861 589.5h3M921 589.5h1M9 584.5h1M280 584.5h2M285 584.5h3M291 584.5h3M370 584.5h2M413 584.5h1M880 584.5h2M885 584.5h3M27 597.5h1M435 597.5h1M825 597.5h3M831 597.5h1M934 597.5h1M147 655.5h3M171 655.5h3M15 588.5h1M267 588.5h2M311 588.5h1M315 588.5h2M357 588.5h1M917 588.5h1M41 605.5h1M237 605.5h1M448 605.5h2M526 605.5h2M567 605.5h3M729 605.5h3M17 590.5h1M261 590.5h1M321 590.5h3M345 590.5h3M425 590.5h1M856 590.5h2M922 590.5h2M57 612.5h1M465 612.5h1M496 612.5h2M501 612.5h1M591 612.5h3M701 612.5h1M94 633.5h1M209 633.5h1M1023 633.5h3M1029 633.5h2M10 585.5h2M274 585.5h2M279 585.5h1M297 585.5h3M369 585.5h1M417 585.5h1M874 585.5h2M879 585.5h1M909 585.5h2M81 625.5h1M639 625.5h3M645 625.5h3M651 625.5h3M987 625.5h2M525 606.5h1M573 606.5h3M723 606.5h3M951 606.5h2M58 613.5h2M466 613.5h2M489 613.5h3M495 613.5h1M699 613.5h2M963 613.5h1M95 634.5h1M208 634.5h1M1031 634.5h1M1035 634.5h3M1041 634.5h3M69 618.5h1M605 618.5h1M681 618.5h1M89 630.5h1M1005 630.5h3M135 652.5h3M141 653.5h2M178 653.5h2M231 611.5h1M461 611.5h1M502 611.5h2M705 611.5h1M959 611.5h1M256 592.5h1M849 592.5h1M87 629.5h2M213 629.5h1M1001 629.5h1M76 623.5h2M219 623.5h1M623 623.5h1M627 623.5h3M658 623.5h2M981 623.5h2M123 647.5h1M190 647.5h1M1101 647.5h3M45 607.5h2M453 607.5h1M519 607.5h3M579 607.5h2M718 607.5h2M953 607.5h1M64 616.5h2M226 616.5h1M688 616.5h2M969 616.5h1M39 604.5h2M238 604.5h2M447 604.5h1M531 604.5h3M551 604.5h1M555 604.5h3M561 604.5h3M735 604.5h3M471 614.5h3M477 614.5h3M483 614.5h3M597 614.5h1M964 614.5h2M153 656.5h3M159 656.5h3M165 656.5h3M251 595.5h1M837 595.5h3M52 610.5h2M232 610.5h1M459 610.5h2M507 610.5h3M586 610.5h2M706 610.5h2M958 610.5h1M124 648.5h2M189 648.5h1M1107 648.5h3M1011 631.5h3M3 581.5h1M381 581.5h3M399 581.5h3M75 622.5h1M220 622.5h1M617 622.5h1M621 622.5h2M663 622.5h3M375 583.5h1M411 583.5h2M891 583.5h3M897 583.5h3M903 583.5h3M273 586.5h1M303 586.5h2M363 586.5h3M418 586.5h2M873 586.5h1M911 586.5h1M537 603.5h3M543 603.5h3M549 603.5h2M741 603.5h3M747 603.5h3M946 603.5h2M221 621.5h1M615 621.5h2M669 621.5h1M977 621.5h1M269 587.5h1M305 587.5h1M309 587.5h2M358 587.5h2M867 587.5h3M915 587.5h2M387 580.5h3M393 580.5h3M215 627.5h1M993 627.5h3M1089 645.5h3M51 609.5h1M233 609.5h1M513 609.5h1M585 609.5h1M711 609.5h3M957 609.5h1M106 640.5h2M1071 640.5h2M196 642.5h2M1077 642.5h3M113 644.5h1M1085 644.5h1M129 650.5h1M185 650.5h1M4 582.5h2M376 582.5h2M405 582.5h3M21 593.5h2M255 593.5h1M429 593.5h2M843 593.5h3M927 593.5h2M117 646.5h3M191 646.5h1M1095 646.5h3M257 591.5h1M327 591.5h3M333 591.5h3M339 591.5h3M850 591.5h2M855 591.5h1M214 628.5h1M999 628.5h2M100 637.5h2M1053 637.5h3M203 638.5h1M1059 638.5h3M93 632.5h1M1017 632.5h3M130 651.5h2M183 651.5h2M143 654.5h1M177 654.5h1M28 598.5h2M436 598.5h2M819 598.5h3M935 598.5h1M633 624.5h3M657 624.5h1M983 624.5h1M71 620.5h1M610 620.5h2M670 620.5h2M975 620.5h2M105 639.5h1M201 639.5h2M1065 639.5h3M1113 649.5h3M111 643.5h2M195 643.5h1M1083 643.5h2M207 635.5h1M1047 635.5h2M70 619.5h1M609 619.5h1M675 619.5h3M249 596.5h2M832 596.5h2M933 596.5h1M23 594.5h1M431 594.5h1M929 594.5h1M99 636.5h1M1049 636.5h1M1073 641.5h1" stroke="#ff0000" stroke-width="1" fill="none"/>
<line x1="4" y1="710.5" x2="1418" y2="710.5" stroke="#c0c0c0" stroke-dasharray="3 3"/>
<line x1="4" y1="761.5" x2="1418" y2="761.5" stroke="#c0c0c0" stroke-dasharray="3 3"/>
<path d="M306.5 731v2M385.5 739v3M145.5 764v2M1068.5 766v2M157.5 746v2M484.5 732v2M381.5 729v3M905.5 753v2M719.5 733v2M301.5 741v2M336.5 725v2M1071.5 762v2M141.5 756v2M152.5 757v2M144.5 762v2M332.5 732v2M305.5 733v2M901.5 746v2M904.5 751v2M487.5 736v2M151.5 759v2M156.5 748v2M147.5 767v2M140.5 754v2M300.5 743v2M722.5 737v2M338.5 721v2M900.5 744v2M387.5 744v2M821.5 724v2M163.5 734v2M768.5 736v2M384.5 737v2M334.5 728v2M143.5 760v2M45.5 745v2M380.5 727v2M490.5 740v2M158.5 744v2M295.5 740v2M304.5 735v2M756.5 734v2M383.5 734v3M155.5 750v3M44.5 743v2M379.5 725v2M333.5 730v2M337.5 723v2M150.5 761v2M895.5 738v2M142.5 758v2M47.5 748v2M162.5 736v2M303.5 737v2M161.5 738v2M759.5 738v2M154.5 753v2M770.5 733v2M671.5 732v2M149.5 763v2M382.5 732v2M50.5 753v2M160.5 740v2M153.5 755v2M302.5 739v2M716.5 729v2M49.5 751v2M764.5 742v2M148.5 765v2M825.5 729v2M1074.5 758v2M159.5 742v2M762.5 742v2M146.5 766v2M386.5 742v2M766.5 739v2M906.5 755v2M902.5 748v2M178 730.5h4M243 730.5h2M255 730.5h2M307 730.5h10M371 730.5h1M517 730.5h2M526 730.5h1M673 730.5h1M677 730.5h2M711 730.5h2M808 730.5h4M829 730.5h1M874 730.5h1M276 735.5h1M456 735.5h5M470 735.5h2M486 735.5h1M503 735.5h2M531 735.5h1M658 735.5h3M669 735.5h1M684 735.5h2M704 735.5h1M720 735.5h1M739 735.5h3M769 735.5h1M783 735.5h14M892 735.5h1M173 732.5h3M259 732.5h4M319 732.5h3M474 732.5h1M510 732.5h4M528 732.5h1M680 732.5h1M707 732.5h2M718 732.5h1M771 732.5h2M801 732.5h2M827 732.5h1M885 732.5h2M202 725.5h4M237 725.5h1M365 725.5h1M816 725.5h1M834 725.5h1M853 725.5h4M862 725.5h4M868 725.5h1M62 757.5h1M94 757.5h2M105 757.5h2M109 757.5h3M907 757.5h5M962 757.5h2M979 757.5h1M1037 757.5h2M1075 757.5h1M1091 757.5h4M1100 757.5h2M15 743.5h2M41 743.5h2M297 743.5h1M427 743.5h4M438 743.5h4M540 743.5h2M553 743.5h2M559 743.5h8M610 743.5h1M615 743.5h5M899 743.5h1M176 731.5h2M257 731.5h2M317 731.5h2M475 731.5h9M514 731.5h3M527 731.5h1M672 731.5h1M679 731.5h1M709 731.5h2M717 731.5h1M803 731.5h5M826 731.5h1M828 731.5h1M875 731.5h10M61 756.5h1M96 756.5h1M103 756.5h2M112 756.5h2M119 756.5h14M912 756.5h4M960 756.5h2M964 756.5h1M978 756.5h1M980 756.5h2M1035 756.5h2M1076 756.5h2M1089 756.5h2M1102 756.5h1M168 733.5h5M263 733.5h8M322 733.5h5M473 733.5h1M507 733.5h3M529 733.5h1M681 733.5h2M706 733.5h1M746 733.5h10M773 733.5h4M799 733.5h2M887 733.5h3M3 740.5h5M12 740.5h1M282 740.5h1M284 740.5h2M446 740.5h1M494 740.5h2M537 740.5h1M624 740.5h1M630 740.5h2M639 740.5h2M760 740.5h1M896 740.5h1M399 748.5h6M415 748.5h2M421 748.5h1M575 748.5h1M594 748.5h1M597 748.5h4M604 748.5h1M933 748.5h3M948 748.5h1M995 748.5h2M1018 748.5h3M182 729.5h4M242 729.5h1M245 729.5h3M254 729.5h1M370 729.5h1M372 729.5h2M519 729.5h2M525 729.5h1M674 729.5h1M676 729.5h1M713 729.5h2M812 729.5h1M830 729.5h1M873 729.5h1M198 726.5h4M238 726.5h1M366 726.5h1M377 726.5h2M815 726.5h1M822 726.5h1M833 726.5h1M857 726.5h5M869 726.5h1M186 728.5h6M241 728.5h1M248 728.5h2M252 728.5h2M369 728.5h1M374 728.5h2M521 728.5h2M524 728.5h1M675 728.5h1M715 728.5h1M813 728.5h1M824 728.5h1M831 728.5h1M871 728.5h2M51 755.5h5M60 755.5h1M97 755.5h1M102 755.5h1M114 755.5h5M133 755.5h3M916 755.5h2M958 755.5h2M965 755.5h1M977 755.5h1M982 755.5h2M1033 755.5h2M1078 755.5h2M1087 755.5h2M1103 755.5h1M56 754.5h4M98 754.5h1M100 754.5h2M136 754.5h2M918 754.5h1M956 754.5h2M966 754.5h2M975 754.5h2M984 754.5h1M1031 754.5h2M1080 754.5h1M1086 754.5h1M1104 754.5h2M13 741.5h1M283 741.5h1M444 741.5h2M492 741.5h2M538 741.5h1M622 741.5h2M632 741.5h2M637 741.5h2M761 741.5h1M765 741.5h1M897 741.5h1M206 724.5h4M215 724.5h17M236 724.5h1M364 724.5h1M817 724.5h1M835 724.5h18M866 724.5h2M278 737.5h1M289 737.5h2M292 737.5h1M450 737.5h1M463 737.5h3M468 737.5h1M499 737.5h2M533 737.5h1M653 737.5h3M665 737.5h3M687 737.5h2M701 737.5h1M735 737.5h2M758 737.5h1M894 737.5h1M354 722.5h5M819 722.5h1M417 749.5h2M420 749.5h1M576 749.5h1M592 749.5h2M601 749.5h3M928 749.5h5M949 749.5h2M993 749.5h2M997 749.5h4M1016 749.5h2M1021 749.5h2M46 747.5h1M393 747.5h6M405 747.5h3M414 747.5h1M422 747.5h2M547 747.5h1M574 747.5h1M595 747.5h2M605 747.5h1M936 747.5h2M943 747.5h5M64 759.5h1M92 759.5h1M1042 759.5h5M19 746.5h18M389 746.5h4M408 746.5h2M412 746.5h2M424 746.5h1M545 746.5h2M548 746.5h2M573 746.5h1M606 746.5h2M938 746.5h5M279 738.5h2M288 738.5h1M293 738.5h1M448 738.5h2M466 738.5h2M488 738.5h1M497 738.5h2M534 738.5h1M627 738.5h1M643 738.5h10M689 738.5h2M700 738.5h1M733 738.5h2M767 738.5h1M8 739.5h4M281 739.5h1M286 739.5h2M294 739.5h1M447 739.5h1M489 739.5h1M496 739.5h1M535 739.5h2M625 739.5h2M628 739.5h2M641 739.5h2M691 739.5h9M723 739.5h10M578 751.5h1M590 751.5h1M922 751.5h1M952 751.5h1M970 751.5h1M972 751.5h1M989 751.5h2M1007 751.5h6M1026 751.5h2M17 744.5h1M39 744.5h2M298 744.5h1M426 744.5h1M431 744.5h7M542 744.5h1M552 744.5h1M567 744.5h5M609 744.5h1M763 744.5h1M164 734.5h4M271 734.5h5M327 734.5h5M472 734.5h1M485 734.5h1M505 734.5h2M530 734.5h1M670 734.5h1M683 734.5h1M705 734.5h1M742 734.5h4M777 734.5h6M797 734.5h2M890 734.5h2M18 745.5h1M37 745.5h2M299 745.5h1M388 745.5h1M410 745.5h2M425 745.5h1M543 745.5h2M550 745.5h2M572 745.5h1M608 745.5h1M1063 767.5h3M210 723.5h5M232 723.5h4M359 723.5h5M818 723.5h1M820 723.5h1M48 750.5h1M419 750.5h1M577 750.5h1M591 750.5h1M903 750.5h1M923 750.5h5M951 750.5h1M971 750.5h1M991 750.5h2M1001 750.5h6M1013 750.5h3M1023 750.5h3M346 718.5h2M579 752.5h4M588 752.5h2M920 752.5h2M953 752.5h2M969 752.5h1M973 752.5h1M987 752.5h2M1028 752.5h2M1083 752.5h1M1107 752.5h4M65 760.5h1M90 760.5h2M1047 760.5h5M1073 760.5h1M67 762.5h5M79 762.5h7M1054 762.5h1M66 761.5h1M72 761.5h7M86 761.5h4M1052 761.5h2M1072 761.5h1M14 742.5h1M43 742.5h1M296 742.5h1M442 742.5h2M491 742.5h1M539 742.5h1M555 742.5h4M611 742.5h4M620 742.5h2M634 742.5h3M898 742.5h1M99 753.5h1M138 753.5h2M583 753.5h5M919 753.5h1M955 753.5h1M968 753.5h1M974 753.5h1M985 753.5h2M1030 753.5h1M1081 753.5h2M1084 753.5h2M1106 753.5h1M1111 753.5h5M277 736.5h1M291 736.5h1M451 736.5h5M461 736.5h2M469 736.5h1M501 736.5h2M532 736.5h1M656 736.5h2M661 736.5h4M668 736.5h1M686 736.5h1M702 736.5h2M721 736.5h1M737 736.5h2M757 736.5h1M893 736.5h1M192 727.5h6M239 727.5h2M250 727.5h2M335 727.5h1M367 727.5h2M376 727.5h1M523 727.5h1M814 727.5h1M823 727.5h1M832 727.5h1M870 727.5h1M1066 768.5h2M1059 765.5h2M1069 765.5h1M63 758.5h1M93 758.5h1M107 758.5h2M1039 758.5h3M1095 758.5h5M352 721.5h2M1057 764.5h2M1070 764.5h1M342 719.5h4M348 719.5h2M339 720.5h3M350 720.5h2M1061 766.5h2M1055 763.5h2" fill="none" stroke="#1e90ff" stroke-width="1"/>
<rect x="2" y="24" width="1417" height="1" fill="#000"/>
<rect x="2" y="563" width="1417" height="1" fill="#000"/>
<rect x="2" y="24" width="1" height="540" fill="#000"/>
<rect x="1418" y="24" width="1" height="540" fill="#000"/>
<rect x="2" y="565" width="1417" height="1" fill="#000"/>
<rect x="2" y="668" width="1417" height="1" fill="#000"/>
<rect x="2" y="565" width="1" height="104" fill="#000"/>
<rect x="1418" y="565" width="1" height="104" fill="#000"/>
<rect x="2" y="670" width="1417" height="1" fill="#000"/>
<rect x="2" y="800" width="1417" height="1" fill="#000"/>
<rect x="2" y="670" width="1" height="131" fill="#000"/>
<rect x="1418" y="670" width="1" height="131" fill="#000"/>
<rect x="1419" y="32" width="2" height="1" fill="#000"/>
<rect x="1419" y="65" width="2" height="1" fill="#000"/>
<rect x="1419" y="98" width="2" height="1" fill="#000"/>
<rect x="1419" y="131" width="2" height="1" fill="#000"/>
<rect x="1419" y="164" width="2" height="1" fill="#000"/>
<rect x="1419" y="197" width="2" height="1" fill="#000"/>
<rect x="1419" y="230" width="2" height="1" fill="#000"/>
<rect x="1419" y="263" width="2" height="1" fill="#000"/>
<rect x="1419" y="296" width="2" height="1" fill="#000"/>
<rect x="1419" y="329" width="2" height="1" fill="#000"/>
<rect x="1419" y="362" width="2" height="1" fill="#000"/>
<rect x="1419" y="395" width="2" height="1" fill="#000"/>
<rect x="1419" y="428" width="2" height="1" fill="#000"/>
<rect x="1419" y="461" width="2" height="1" fill="#000"/>
<rect x="1419" y="494" width="2" height="1" fill="#000"/>
<rect x="1419" y="527" width="2" height="1" fill="#000"/>
<rect x="1419" y="560" width="2" height="1" fill="#000"/>
<rect x="1419" y="566" width="1" height="1" fill="#000"/>
<rect x="1419" y="599" width="1" height="1" fill="#000"/>
<rect x="1419" y="667" width="1" height="1" fill="#000"/>
<rect x="1419" y="671" width="1" height="1" fill="#000"/>
<rect x="1419" y="710" width="1" height="1" fill="#000"/>
<rect x="1419" y="761" width="1" height="1" fill="#000"/>
<rect x="1419" y="799" width="1" height="1" fill="#000"/>
<rect x="3" y="800" width="1" height="4" fill="#000"/>
<rect x="67" y="800" width="1" height="4" fill="#000"/>
<rect x="131" y="800" width="1" height="4" fill="#000"/>
<rect x="195" y="800" width="1" height="4" fill="#000"/>
<rect x="259" y="800" width="1" height="4" fill="#000"/>
<rect x="323" y="800" width="1" height="4" fill="#000"/>
<rect x="387" y="800" width="1" height="4" fill="#000"/>
<rect x="451" y="800" width="1" height="4" fill="#000"/>
<rect x="515" y="800" width="1" height="4" fill="#000"/>
<rect x="579" y="800" width="1" height="4" fill="#000"/>
<rect x="643" y="800" width="1" height="4" fill="#000"/>
<rect x="707" y="800" width="1" height="4" fill="#000"/>
<rect x="771" y="800" width="1" height="4" fill="#000"/>
<rect x="835" y="800" width="1" height="4" fill="#000"/>
<rect x="899" y="800" width="1" height="4" fill="#000"/>
<rect x="963" y="800" width="1" height="4" fill="#000"/>
<rect x="1027" y="800" width="1" height="4" fill="#000"/>
<rect x="1091" y="800" width="1" height="4" fill="#000"/>
<rect x="1129" y="25" width="9" height="1" fill="#c0c0c0"/>
<rect x="1130" y="26" width="7" height="1" fill="#c0c0c0"/>
<rect x="1131" y="27" width="5" height="1" fill="#c0c0c0"/>
<rect x="1132" y="28" width="3" height="1" fill="#c0c0c0"/>
<rect x="1133" y="29" width="1" height="1" fill="#c0c0c0"/>
<rect x="1420" y="481" width="39" height="11" fill="#000"/>
<rect x="9" y="31" width="1" height="1" fill="#000"/>
<rect x="8" y="32" width="3" height="1" fill="#000"/>
<rect x="7" y="33" width="5" height="1" fill="#000"/>
<rect x="6" y="34" width="7" height="1" fill="#000"/>
</svg>
<div class="t" style="left:19px;top:28px;font-size:9.6px;letter-spacing:-0.087px;line-height:12px;">AUDUSD-,Daily&nbsp; 0.68976 0.69044 0.68824 0.68897</div>
<div class="t" style="left:7px;top:570px;font-size:9.6px;letter-spacing:-0.116px;line-height:12px;">MACD(12,26,9) -0.004592 -0.004639</div>
<div class="t" style="left:7px;top:675px;font-size:9.6px;letter-spacing:-0.17px;line-height:12px;">RSI(14) 36.1477</div>
<div class="ax" style="top:28px">0.73115</div>
<div class="ax" style="top:61px">0.72810</div>
<div class="ax" style="top:94px">0.72505</div>
<div class="ax" style="top:127px">0.72200</div>
<div class="ax" style="top:160px">0.71890</div>
<div class="ax" style="top:193px">0.71585</div>
<div class="ax" style="top:226px">0.71280</div>
<div class="ax" style="top:259px">0.70970</div>
<div class="ax" style="top:292px">0.70665</div>
<div class="ax" style="top:325px">0.70360</div>
<div class="ax" style="top:358px">0.70050</div>
<div class="ax" style="top:391px">0.69745</div>
<div class="ax" style="top:424px">0.69440</div>
<div class="ax" style="top:457px">0.69130</div>
<div class="ax" style="top:490px">0.68825</div>
<div class="ax" style="top:523px">0.68520</div>
<div class="ax" style="top:556px">0.68210</div>
<div class="ax" style="top:482px;color:#fff;left:1424px">0.68897</div>
<div class="ax" style="top:568px;left:1422px">0.003035</div>
<div class="ax" style="top:595px;left:1422px">0.00</div>
<div class="ax" style="top:657px;left:1422px">-0.00631</div>
<div class="ax" style="top:673px;left:1422px">100</div>
<div class="ax" style="top:706px;left:1422px">70</div>
<div class="ax" style="top:757px;left:1422px">30</div>
<div class="ax" style="top:789px;left:1422px">0</div>
<div class="dt" style="left:1.7px">12 Dec 2018</div>
<div class="dt" style="left:65.7px">21 Dec 2018</div>
<div class="dt" style="left:129.7px">31 Dec 2018</div>
<div class="dt" style="left:193.7px">9 Jan 2019</div>
<div class="dt" style="left:257.7px">18 Jan 2019</div>
<div class="dt" style="left:321.7px">28 Jan 2019</div>
<div class="dt" style="left:385.7px">6 Feb 2019</div>
<div class="dt" style="left:449.7px">15 Feb 2019</div>
<div class="dt" style="left:513.7px">25 Feb 2019</div>
<div class="dt" style="left:577.7px">6 Mar 2019</div>
<div class="dt" style="left:641.7px">15 Mar 2019</div>
<div class="dt" style="left:705.7px">25 Mar 2019</div>
<div class="dt" style="left:769.7px">3 Apr 2019</div>
<div class="dt" style="left:833.7px">12 Apr 2019</div>
<div class="dt" style="left:897.7px">23 Apr 2019</div>
<div class="dt" style="left:961.7px">2 May 2019</div>
<div class="dt" style="left:1025.7px">12 May 2019</div>
<div class="dt" style="left:1089.7px">21 May 2019</div>
<div id="sell"></div><div id="buy"></div><div id="sellb"></div><div id="buyb"></div>
<div class="pl" style="left:10px;width:44px"></div><div class="pl" style="left:177px;width:44px"></div>
<div id="spin"></div><div class="sb" style="left:61px"></div><div class="sb" style="left:150px"></div><div style="position:absolute;left:81px;top:45px;width:1px;height:20px;background:#abadb3"></div><div style="position:absolute;left:149px;top:45px;width:1px;height:20px;background:#abadb3"></div>
<svg width="240" height="120" viewBox="0 0 240 120"><polygon points="67.5,53 73.5,53 70.5,56.5" fill="#4a5cc0"/><polygon points="156.5,56 162.5,56 159.5,52.5" fill="#4a5cc0"/></svg>
<div class="wt" style="left:18.5px;top:50px;font-size:11.4px;line-height:14px;letter-spacing:-0.5px;">SELL</div>
<div class="wt" style="left:186.5px;top:50px;font-size:11.7px;line-height:14px;">BUY</div>
<div class="t" style="left:121.8px;top:47px;font-size:13.4px;line-height:15px;letter-spacing:-0.8px;">1.00</div>
<div class="wt" style="left:26.5px;top:89px;font-size:12px;font-weight:bold;line-height:13px;">0.68</div>
<div class="wt" style="left:54px;top:69px;font-size:35px;line-height:38px;transform:scaleX(0.91);transform-origin:0 0;">89</div>
<div class="wt" style="left:93px;top:72.5px;font-size:12.5px;font-weight:bold;line-height:13px;">7</div>
<div class="wt" style="left:136px;top:89px;font-size:12px;font-weight:bold;line-height:13px;">0.68</div>
<div class="wt" style="left:163.5px;top:69px;font-size:35px;line-height:38px;transform:scaleX(0.91);transform-origin:0 0;">91</div>
<div class="wt" style="left:204.5px;top:72.5px;font-size:12.5px;font-weight:bold;line-height:13px;">5</div>
<div id="barl0"></div><div id="bar"></div><div id="barw"></div><div id="barl1"></div><div id="act"></div>
<div class="tab" style="left:14.2px;letter-spacing:-0.47px;">EURUSD-,Daily</div>
<div class="tab" style="left:122px;letter-spacing:-0.31px;color:#000;">AUDUSD-,Daily</div>
<div class="tab" style="left:231.8px;letter-spacing:-0.55px;">USDCHF-,Daily</div>
<div class="tab" style="left:338.7px;letter-spacing:-0.43px;">USDCAD-,Daily</div>
<div class="tab" style="left:447.6px;letter-spacing:-0.32px;">USDCNH-,Daily</div>
<div class="tab" style="left:558.6px;letter-spacing:-0.53px;">EURCHF-,Weekly</div>
<div class="tsep" style="left:328px"></div>
<div class="tsep" style="left:436px"></div>
<div class="tsep" style="left:548px"></div>
<div class="tsep" style="left:668px"></div>
<svg width="1459" height="847" viewBox="0 0 1459 847"><polygon points="1437.4,829.2 1437.4,835.6 1433.7,832.4" fill="#a0a0a0"/><polygon points="1452.9,829.2 1452.9,835.6 1456.5,832.4" fill="#a0a0a0"/></svg>
</body></html>
